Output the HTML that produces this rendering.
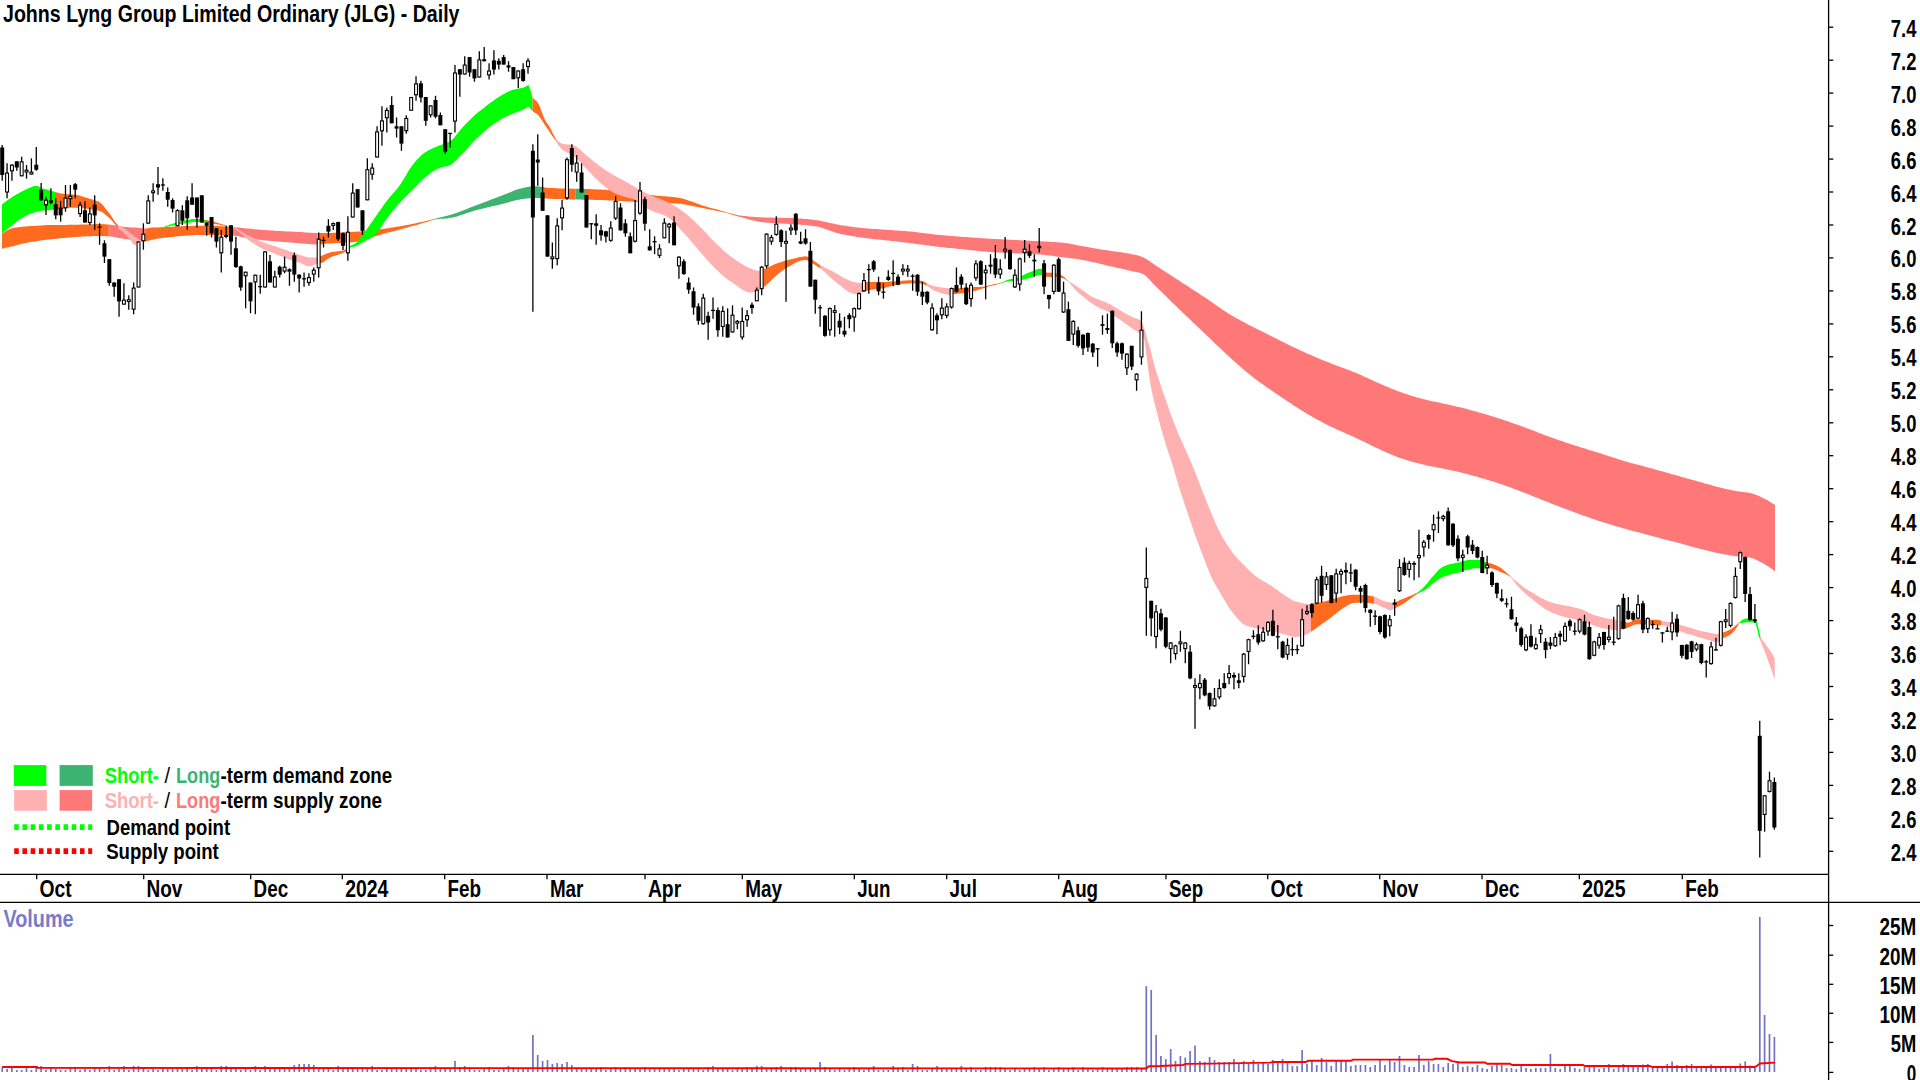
<!DOCTYPE html>
<html><head><meta charset="utf-8"><title>JLG Daily</title>
<style>html,body{margin:0;padding:0;background:#fff;overflow:hidden}svg{display:block}</style></head>
<body>
<svg width="1920" height="1080" viewBox="0 0 1920 1080">
<rect width="1920" height="1080" fill="#fff"/>
<g shape-rendering="geometricPrecision">
<polygon fill="#FF6A1F" points="2.0,233.8 4.0,232.4 6.0,231.0 8.0,229.8 10.1,228.9 12.1,228.2 14.1,227.8 16.1,227.5 18.1,227.2 20.1,227.0 22.1,226.8 24.2,226.6 26.2,226.4 28.2,226.3 30.2,226.1 32.2,226.0 34.2,225.9 36.2,225.8 38.3,225.7 40.3,225.5 42.3,225.4 44.3,225.2 46.3,225.1 48.3,225.0 50.3,225.0 52.4,225.0 54.4,225.0 56.4,224.9 58.4,224.9 60.4,224.9 62.4,224.9 64.4,224.9 66.5,224.9 68.5,224.8 70.5,224.8 72.5,224.8 74.5,224.8 76.5,224.7 78.5,224.7 80.6,224.6 82.6,224.5 84.6,224.5 86.6,224.4 88.6,224.4 90.6,224.3 92.6,224.2 94.7,224.2 96.7,224.1 98.7,224.1 100.7,224.1 102.7,224.2 104.7,224.3 106.7,224.4 108.8,224.6 108.8,236.2 106.7,236.2 104.7,236.1 102.7,236.0 100.7,236.0 98.7,236.0 96.7,236.0 94.7,236.1 92.6,236.1 90.6,236.2 88.6,236.2 86.6,236.3 84.6,236.4 82.6,236.5 80.6,236.7 78.5,236.8 76.5,237.0 74.5,237.1 72.5,237.3 70.5,237.4 68.5,237.6 66.5,237.8 64.4,237.9 62.4,238.1 60.4,238.3 58.4,238.5 56.4,238.7 54.4,238.9 52.4,239.1 50.3,239.4 48.3,239.6 46.3,239.8 44.3,240.1 42.3,240.3 40.3,240.6 38.3,240.9 36.2,241.2 34.2,241.5 32.2,241.8 30.2,242.1 28.2,242.5 26.2,242.9 24.2,243.3 22.1,243.7 20.1,244.2 18.1,244.8 16.1,245.3 14.1,245.9 12.1,246.4 10.1,246.8 8.0,247.3 6.0,247.8 4.0,248.3 2.0,248.8"/>
<polygon fill="#FF7878" points="108.8,224.6 110.8,224.8 112.9,225.1 115.0,225.4 117.0,225.8 119.1,226.1 121.2,226.4 123.2,226.7 125.3,226.9 127.4,227.1 129.4,227.2 131.5,227.4 133.6,227.5 135.7,227.6 137.7,227.8 139.8,228.0 141.9,228.2 143.9,228.4 146.0,228.5 146.0,241.2 143.9,241.2 141.9,241.0 139.8,240.8 137.7,240.6 135.7,240.4 133.6,240.2 131.5,239.9 129.4,239.6 127.4,239.3 125.3,239.0 123.2,238.7 121.2,238.3 119.1,237.9 117.0,237.5 115.0,237.0 112.9,236.7 110.8,236.4 108.8,236.2"/>
<polygon fill="#FF6A1F" points="146.0,228.5 148.0,228.2 150.0,227.7 152.0,227.6 154.0,227.5 156.1,227.5 158.1,227.4 160.1,227.3 162.1,227.3 164.1,227.2 166.1,227.0 168.1,226.9 170.1,226.8 172.2,226.7 174.2,226.5 176.2,226.4 178.2,226.4 180.2,226.3 182.2,226.2 184.2,226.1 186.2,226.0 188.2,226.0 190.3,225.9 192.3,225.9 194.3,225.8 196.3,225.8 198.3,225.8 200.3,225.8 202.3,225.8 204.3,225.8 206.3,225.8 208.4,225.8 210.4,225.8 212.4,225.8 214.4,225.8 216.4,225.9 218.4,226.0 220.4,226.2 222.4,226.3 224.5,226.5 226.5,226.6 228.5,226.7 230.5,226.9 232.5,227.0 232.5,235.5 230.5,235.4 228.5,235.4 226.5,235.3 224.5,235.3 222.4,235.2 220.4,235.2 218.4,235.1 216.4,235.0 214.4,235.0 212.4,235.0 210.4,235.0 208.4,235.0 206.3,235.0 204.3,235.0 202.3,235.0 200.3,235.0 198.3,235.0 196.3,235.1 194.3,235.2 192.3,235.3 190.3,235.4 188.2,235.6 186.2,235.7 184.2,235.8 182.2,236.0 180.2,236.1 178.2,236.3 176.2,236.5 174.2,236.7 172.2,236.9 170.1,237.0 168.1,237.2 166.1,237.5 164.1,237.7 162.1,238.0 160.1,238.3 158.1,238.6 156.1,239.0 154.0,239.4 152.0,239.8 150.0,240.2 148.0,240.9 146.0,241.2"/>
<polygon fill="#FF7878" points="232.5,227.0 234.5,227.2 236.5,227.4 238.6,227.6 240.6,227.8 242.6,228.0 244.6,228.2 246.7,228.4 248.7,228.6 250.7,228.8 252.7,229.0 254.8,229.2 256.8,229.4 258.8,229.5 260.8,229.7 262.9,229.9 264.9,230.0 266.9,230.2 268.9,230.3 271.0,230.5 273.0,230.6 275.0,230.8 277.0,230.9 279.0,231.0 281.1,231.1 283.1,231.2 285.1,231.3 287.1,231.4 289.2,231.5 291.2,231.6 293.2,231.7 295.2,231.8 297.3,231.9 299.3,232.0 301.3,232.1 303.3,232.2 305.4,232.4 307.4,232.5 309.4,232.7 311.4,232.8 313.5,232.9 315.5,233.0 317.5,233.0 317.5,244.5 315.5,244.5 313.5,244.4 311.4,244.3 309.4,244.1 307.4,243.9 305.4,243.7 303.3,243.5 301.3,243.4 299.3,243.2 297.3,243.0 295.2,242.9 293.2,242.7 291.2,242.6 289.2,242.4 287.1,242.3 285.1,242.1 283.1,241.9 281.1,241.8 279.0,241.6 277.0,241.4 275.0,241.2 273.0,241.1 271.0,240.9 268.9,240.7 266.9,240.5 264.9,240.4 262.9,240.2 260.8,240.0 258.8,239.8 256.8,239.6 254.8,239.3 252.7,239.1 250.7,238.8 248.7,238.6 246.7,238.2 244.6,237.7 242.6,237.3 240.6,236.8 238.6,236.3 236.5,235.9 234.5,235.7 232.5,235.5"/>
<polygon fill="#FF6A1F" points="317.5,233.0 319.5,233.0 321.6,233.0 323.6,233.0 325.6,233.0 327.6,233.0 329.7,232.9 331.7,232.9 333.7,232.8 335.7,232.7 337.8,232.6 339.8,232.5 341.8,232.4 343.8,232.3 345.9,232.2 347.9,232.1 349.9,232.0 351.9,231.9 354.0,231.8 356.0,231.7 358.0,231.5 360.0,231.4 362.1,231.2 364.1,231.1 366.1,230.9 368.1,230.7 370.2,230.5 372.2,230.3 374.2,230.1 376.2,229.9 378.3,229.6 380.3,229.3 382.3,229.1 384.4,228.8 386.4,228.5 388.4,228.2 390.4,227.8 392.5,227.5 394.5,227.2 396.5,226.8 398.5,226.5 400.6,226.2 402.6,225.8 404.6,225.4 406.6,225.1 408.7,224.7 410.7,224.3 412.7,223.9 414.7,223.5 416.8,223.0 418.8,222.6 420.8,222.2 422.8,221.7 424.9,221.3 426.9,220.8 428.9,220.3 430.9,219.8 433.0,219.3 435.0,218.8 435.0,219.5 433.0,219.9 430.9,220.5 428.9,221.2 426.9,221.9 424.9,222.5 422.8,223.1 420.8,223.7 418.8,224.3 416.8,224.9 414.7,225.4 412.7,226.0 410.7,226.6 408.7,227.1 406.6,227.7 404.6,228.2 402.6,228.8 400.6,229.3 398.5,229.9 396.5,230.4 394.5,231.0 392.5,231.5 390.4,232.0 388.4,232.5 386.4,233.1 384.4,233.6 382.3,234.2 380.3,234.7 378.3,235.3 376.2,235.9 374.2,236.5 372.2,237.2 370.2,238.0 368.1,238.7 366.1,239.5 364.1,240.1 362.1,240.6 360.0,241.0 358.0,241.4 356.0,241.8 354.0,242.1 351.9,242.3 349.9,242.5 347.9,242.7 345.9,242.8 343.8,242.9 341.8,243.0 339.8,243.1 337.8,243.1 335.7,243.2 333.7,243.3 331.7,243.4 329.7,243.5 327.6,243.6 325.6,243.7 323.6,243.9 321.6,244.2 319.5,244.4 317.5,244.5"/>
<polygon fill="#3CB371" points="435.0,218.8 437.0,218.3 439.0,217.8 441.0,217.3 443.0,216.8 445.0,216.3 447.0,215.8 449.0,215.3 451.0,214.7 453.0,214.1 455.0,213.4 457.0,212.7 459.0,212.0 461.0,211.2 463.0,210.4 465.0,209.7 467.0,208.9 469.0,208.1 471.0,207.3 473.0,206.5 475.0,205.8 477.0,205.0 479.0,204.2 481.0,203.5 483.0,202.7 485.0,201.9 487.0,201.2 489.0,200.4 491.0,199.6 493.0,198.9 495.0,198.1 497.0,197.4 499.0,196.6 501.0,195.9 503.0,195.1 505.0,194.3 507.0,193.5 509.0,192.7 511.0,191.9 513.0,191.1 515.0,190.3 517.0,189.6 519.0,189.0 521.0,188.4 523.0,187.9 525.0,187.5 527.0,187.1 529.0,186.8 531.0,186.5 533.0,186.3 535.0,186.2 537.0,186.3 539.0,186.5 541.0,186.8 541.0,198.2 539.0,198.1 537.0,198.0 535.0,198.0 533.0,198.0 531.0,198.2 529.0,198.3 527.0,198.5 525.0,198.8 523.0,199.0 521.0,199.3 519.0,199.7 517.0,200.1 515.0,200.6 513.0,201.1 511.0,201.6 509.0,202.2 507.0,202.7 505.0,203.2 503.0,203.8 501.0,204.3 499.0,204.7 497.0,205.2 495.0,205.7 493.0,206.1 491.0,206.6 489.0,207.1 487.0,207.5 485.0,208.0 483.0,208.5 481.0,209.0 479.0,209.5 477.0,210.0 475.0,210.5 473.0,211.1 471.0,211.7 469.0,212.4 467.0,213.0 465.0,213.8 463.0,214.5 461.0,215.1 459.0,215.8 457.0,216.4 455.0,217.0 453.0,217.5 451.0,217.8 449.0,218.1 447.0,218.4 445.0,218.5 443.0,218.7 441.0,218.8 439.0,219.0 437.0,219.2 435.0,219.5"/>
<polygon fill="#FF6A1F" points="541.0,186.8 543.0,187.1 545.1,187.4 547.1,187.7 549.2,187.9 551.2,188.1 553.3,188.1 555.3,188.2 557.4,188.3 559.4,188.4 561.5,188.4 563.5,188.5 565.6,188.5 567.6,188.6 569.7,188.6 571.7,188.7 573.8,188.7 575.8,188.8 575.8,199.5 573.8,199.5 571.7,199.4 569.7,199.4 567.6,199.3 565.6,199.3 563.5,199.2 561.5,199.1 559.4,199.1 557.4,199.0 555.3,198.9 553.3,198.9 551.2,198.8 549.2,198.7 547.1,198.6 545.1,198.5 543.0,198.3 541.0,198.2"/>
<polygon fill="#3CB371" points="575.8,188.8 578.1,188.8 580.4,188.9 582.7,189.0 585.0,189.0 585.0,199.7 582.7,199.7 580.4,199.6 578.1,199.6 575.8,199.5"/>
<polygon fill="#FF6A1F" points="585.0,189.0 587.0,189.1 589.0,189.1 591.0,189.2 593.0,189.2 595.0,189.3 597.0,189.4 599.0,189.5 601.0,189.5 603.0,189.7 605.0,189.8 607.0,189.9 609.0,190.1 611.0,190.3 613.0,190.5 615.0,190.7 617.0,190.9 619.0,191.1 621.0,191.3 623.0,191.5 625.0,191.8 627.0,192.0 629.0,192.2 631.0,192.5 633.0,192.7 635.0,193.0 637.0,193.3 639.0,193.6 641.0,193.8 643.0,194.1 645.0,194.4 647.0,194.6 649.0,194.9 651.0,195.1 653.0,195.3 655.0,195.5 657.0,195.7 659.0,195.8 661.0,196.0 663.0,196.2 665.0,196.3 667.0,196.5 669.0,196.7 671.0,196.8 673.0,197.1 675.0,197.3 677.0,197.5 679.0,197.8 681.0,198.2 683.0,198.7 685.0,199.3 687.0,200.0 689.0,200.7 691.0,201.3 693.0,202.0 695.0,202.8 697.0,203.6 699.0,204.3 701.0,205.0 703.0,205.7 705.0,206.3 707.0,206.8 709.0,207.4 711.0,207.9 713.0,208.4 715.0,209.0 717.0,209.6 719.0,210.1 721.0,210.7 723.0,211.3 725.0,211.8 727.0,212.4 729.0,212.9 731.0,213.5 733.0,214.0 735.0,214.5 737.0,215.0 739.0,215.4 739.0,216.7 737.0,216.1 735.0,215.5 733.0,214.9 731.0,214.2 729.0,213.7 727.0,213.1 725.0,212.6 723.0,212.2 721.0,211.8 719.0,211.3 717.0,210.9 715.0,210.5 713.0,210.1 711.0,209.7 709.0,209.3 707.0,208.9 705.0,208.5 703.0,208.1 701.0,207.7 699.0,207.3 697.0,206.9 695.0,206.5 693.0,206.1 691.0,205.7 689.0,205.3 687.0,204.9 685.0,204.5 683.0,204.1 681.0,203.8 679.0,203.7 677.0,203.5 675.0,203.4 673.0,203.3 671.0,203.2 669.0,203.2 667.0,203.1 665.0,203.0 663.0,203.0 661.0,202.9 659.0,202.8 657.0,202.8 655.0,202.7 653.0,202.6 651.0,202.5 649.0,202.5 647.0,202.4 645.0,202.3 643.0,202.2 641.0,202.1 639.0,202.0 637.0,201.9 635.0,201.8 633.0,201.7 631.0,201.6 629.0,201.5 627.0,201.4 625.0,201.2 623.0,201.1 621.0,201.0 619.0,200.9 617.0,200.8 615.0,200.7 613.0,200.6 611.0,200.5 609.0,200.4 607.0,200.3 605.0,200.2 603.0,200.1 601.0,200.0 599.0,200.0 597.0,199.9 595.0,199.9 593.0,199.8 591.0,199.8 589.0,199.8 587.0,199.7 585.0,199.7"/>
<polygon fill="#FF7878" points="739.0,215.4 741.0,215.6 743.0,215.9 745.0,216.1 747.0,216.3 749.0,216.5 751.0,216.7 753.0,216.8 755.0,217.0 757.0,217.1 759.0,217.2 761.0,217.3 763.0,217.4 765.0,217.5 767.0,217.6 769.0,217.6 771.0,217.6 773.0,217.7 775.0,217.7 777.0,217.7 779.0,217.8 781.0,217.8 783.0,217.8 785.0,217.9 787.0,217.9 789.0,218.0 791.0,218.0 793.0,218.1 795.0,218.2 797.0,218.3 799.0,218.5 801.0,218.6 803.0,218.8 805.0,219.0 807.0,219.1 809.0,219.3 811.0,219.6 813.0,219.8 815.0,220.0 817.0,220.3 819.0,220.6 821.0,220.9 823.0,221.4 825.0,221.8 827.0,222.2 829.0,222.7 831.0,223.2 833.0,223.6 835.0,224.1 837.0,224.5 839.0,224.8 841.0,225.2 843.0,225.5 845.0,225.8 847.0,226.1 849.0,226.4 851.0,226.6 853.0,226.9 855.0,227.2 857.0,227.4 859.0,227.6 861.0,227.9 863.0,228.1 865.0,228.2 867.0,228.4 869.0,228.6 871.0,228.7 873.0,228.9 875.0,229.0 877.0,229.1 879.0,229.3 881.0,229.4 883.0,229.5 885.0,229.7 887.0,229.8 889.0,229.9 891.0,230.1 893.0,230.2 895.0,230.4 897.0,230.5 899.0,230.7 901.0,230.8 903.0,231.0 905.0,231.1 907.0,231.3 909.0,231.5 911.0,231.6 913.0,231.8 915.0,232.0 917.0,232.2 919.0,232.4 921.0,232.7 923.0,232.9 925.0,233.2 927.0,233.4 929.0,233.7 931.0,234.0 933.0,234.2 935.0,234.5 937.0,234.7 939.0,234.9 941.0,235.1 943.0,235.3 945.0,235.5 947.0,235.6 949.0,235.8 951.0,235.9 953.0,236.1 955.0,236.3 957.0,236.4 959.0,236.6 961.0,236.7 963.0,236.9 965.0,237.0 967.0,237.1 969.0,237.3 971.0,237.4 973.0,237.6 975.0,237.7 977.0,237.9 979.0,238.0 981.0,238.2 983.0,238.3 985.0,238.4 987.0,238.6 989.0,238.7 991.0,238.8 993.0,238.9 995.0,239.0 997.0,239.1 999.0,239.2 1001.0,239.3 1003.0,239.4 1005.0,239.5 1007.0,239.6 1009.0,239.7 1011.0,239.8 1013.0,239.9 1015.0,240.0 1017.0,240.1 1019.0,240.2 1021.0,240.3 1023.0,240.4 1025.0,240.5 1027.0,240.6 1029.0,240.7 1031.0,240.8 1033.0,240.9 1035.0,241.0 1037.0,241.1 1039.0,241.2 1041.0,241.3 1043.0,241.4 1045.0,241.5 1047.0,241.6 1049.0,241.8 1051.0,241.9 1053.0,242.0 1055.0,242.1 1057.0,242.3 1059.0,242.4 1061.0,242.6 1063.0,242.8 1065.0,243.0 1067.0,243.3 1069.0,243.6 1071.0,243.9 1073.0,244.3 1075.0,244.8 1077.0,245.2 1079.0,245.6 1081.0,245.9 1083.0,246.3 1085.0,246.6 1087.0,247.0 1089.0,247.3 1091.0,247.7 1093.0,248.0 1095.0,248.4 1097.0,248.7 1099.0,249.0 1101.0,249.4 1103.0,249.7 1105.0,250.0 1107.0,250.3 1109.0,250.6 1111.0,250.9 1113.0,251.2 1115.0,251.4 1117.0,251.7 1119.0,252.0 1121.0,252.2 1123.0,252.5 1125.0,252.9 1127.0,253.2 1129.0,253.6 1131.0,253.9 1133.0,254.4 1135.0,254.8 1137.0,255.3 1139.0,255.8 1141.0,256.5 1143.0,257.2 1145.0,258.2 1147.0,259.4 1149.0,260.7 1151.0,262.2 1153.0,263.6 1155.0,265.0 1157.0,266.3 1159.0,267.6 1161.0,268.9 1163.0,270.2 1165.0,271.5 1167.0,272.8 1169.0,274.1 1171.0,275.4 1173.0,276.7 1175.0,278.0 1177.0,279.3 1179.0,280.6 1181.0,281.9 1183.0,283.2 1185.0,284.5 1187.0,285.8 1189.0,287.1 1191.0,288.4 1193.0,289.7 1195.0,290.9 1197.0,292.2 1199.0,293.5 1201.0,294.9 1203.0,296.2 1205.0,297.5 1207.0,298.8 1209.0,300.2 1211.0,301.6 1213.0,303.0 1215.0,304.4 1217.0,305.8 1219.0,307.2 1221.0,308.6 1223.0,310.0 1225.0,311.3 1227.0,312.6 1229.0,313.9 1231.0,315.1 1233.0,316.3 1235.0,317.4 1237.0,318.5 1239.0,319.6 1241.0,320.7 1243.0,321.8 1245.0,322.8 1247.0,323.9 1249.0,324.9 1251.0,325.9 1253.0,327.0 1255.0,328.0 1257.0,329.0 1259.0,330.1 1261.0,331.1 1263.0,332.1 1265.0,333.1 1267.0,334.1 1269.0,335.1 1271.0,336.1 1273.0,337.1 1275.0,338.0 1277.0,339.0 1279.0,340.0 1281.0,341.0 1283.0,342.0 1285.0,343.0 1287.0,343.9 1289.0,344.9 1291.0,345.9 1293.0,346.9 1295.0,347.8 1297.0,348.8 1299.0,349.7 1301.0,350.7 1303.0,351.6 1305.0,352.5 1307.0,353.4 1309.0,354.3 1311.0,355.1 1313.0,356.0 1315.0,356.9 1317.0,357.7 1319.0,358.5 1321.0,359.4 1323.0,360.2 1325.0,361.0 1327.0,361.8 1329.0,362.6 1331.0,363.4 1333.0,364.2 1335.0,364.9 1337.0,365.7 1339.0,366.4 1341.0,367.2 1343.0,367.9 1345.0,368.6 1347.0,369.4 1349.0,370.1 1351.0,370.9 1353.0,371.7 1355.0,372.5 1357.0,373.3 1359.0,374.2 1361.0,375.1 1363.0,376.0 1365.0,376.9 1367.0,377.8 1369.0,378.8 1371.0,379.7 1373.0,380.6 1375.0,381.5 1377.0,382.4 1379.0,383.3 1381.0,384.2 1383.0,385.0 1385.0,385.9 1387.0,386.8 1389.0,387.6 1391.0,388.5 1393.0,389.3 1395.0,390.1 1397.0,390.9 1399.0,391.6 1401.0,392.3 1403.0,393.0 1405.0,393.7 1407.0,394.3 1409.0,395.0 1411.0,395.6 1413.0,396.2 1415.0,396.8 1417.0,397.4 1419.0,397.9 1421.0,398.5 1423.0,399.0 1425.0,399.5 1427.0,400.0 1429.0,400.5 1431.0,400.9 1433.0,401.4 1435.0,401.8 1437.0,402.2 1439.0,402.6 1441.0,403.0 1443.0,403.5 1445.0,403.9 1447.0,404.3 1449.0,404.8 1451.0,405.2 1453.0,405.7 1455.0,406.2 1457.0,406.7 1459.0,407.1 1461.0,407.6 1463.0,408.1 1465.0,408.6 1467.0,409.1 1469.0,409.7 1471.0,410.2 1473.0,410.7 1475.0,411.2 1477.0,411.8 1479.0,412.4 1481.0,412.9 1483.0,413.5 1485.0,414.1 1487.0,414.7 1489.0,415.3 1491.0,415.9 1493.0,416.5 1495.0,417.2 1497.0,417.8 1499.0,418.4 1501.0,419.1 1503.0,419.7 1505.0,420.4 1507.0,421.1 1509.0,421.8 1511.0,422.5 1513.0,423.2 1515.0,423.9 1517.0,424.6 1519.0,425.3 1521.0,426.0 1523.0,426.8 1525.0,427.5 1527.0,428.2 1529.0,429.0 1531.0,429.7 1533.0,430.5 1535.0,431.3 1537.0,432.1 1539.0,432.9 1541.0,433.6 1543.0,434.4 1545.0,435.2 1547.0,435.9 1549.0,436.6 1551.0,437.4 1553.0,438.1 1555.0,438.8 1557.0,439.5 1559.0,440.2 1561.0,440.8 1563.0,441.5 1565.0,442.2 1567.0,442.9 1569.0,443.5 1571.0,444.2 1573.0,444.8 1575.0,445.5 1577.0,446.1 1579.0,446.8 1581.0,447.4 1583.0,448.0 1585.0,448.6 1587.0,449.3 1589.0,449.9 1591.0,450.5 1593.0,451.1 1595.0,451.7 1597.0,452.3 1599.0,452.9 1601.0,453.6 1603.0,454.2 1605.0,454.9 1607.0,455.5 1609.0,456.2 1611.0,456.8 1613.0,457.5 1615.0,458.1 1617.0,458.8 1619.0,459.4 1621.0,460.0 1623.0,460.7 1625.0,461.2 1627.0,461.8 1629.0,462.4 1631.0,462.9 1633.0,463.5 1635.0,464.0 1637.0,464.5 1639.0,465.1 1641.0,465.6 1643.0,466.1 1645.0,466.7 1647.0,467.2 1649.0,467.7 1651.0,468.3 1653.0,468.8 1655.0,469.4 1657.0,469.9 1659.0,470.5 1661.0,471.1 1663.0,471.6 1665.0,472.2 1667.0,472.8 1669.0,473.3 1671.0,473.9 1673.0,474.4 1675.0,475.0 1677.0,475.6 1679.0,476.1 1681.0,476.7 1683.0,477.2 1685.0,477.8 1687.0,478.4 1689.0,478.9 1691.0,479.5 1693.0,480.1 1695.0,480.6 1697.0,481.2 1699.0,481.7 1701.0,482.3 1703.0,482.8 1705.0,483.4 1707.0,484.0 1709.0,484.5 1711.0,485.1 1713.0,485.7 1715.0,486.2 1717.0,486.8 1719.0,487.3 1721.0,487.8 1723.0,488.3 1725.0,488.8 1727.0,489.2 1729.0,489.6 1731.0,490.0 1733.0,490.4 1735.0,490.8 1737.0,491.2 1739.0,491.5 1741.0,491.7 1743.0,492.0 1745.0,492.2 1747.0,492.5 1749.0,492.8 1751.0,493.2 1753.0,493.8 1755.0,494.5 1757.0,495.3 1759.0,496.1 1761.0,497.0 1763.0,497.9 1765.0,499.0 1767.0,500.0 1769.0,501.2 1771.0,502.4 1773.0,503.7 1775.0,505.0 1775.0,571.3 1773.0,569.8 1771.0,568.3 1769.0,567.0 1767.0,565.7 1765.0,564.5 1763.0,563.3 1761.0,562.2 1759.0,561.2 1757.0,560.3 1755.0,559.3 1753.0,558.4 1751.0,557.7 1749.0,557.3 1747.0,557.1 1745.0,556.9 1743.0,556.7 1741.0,556.6 1739.0,556.4 1737.0,556.2 1735.0,555.9 1733.0,555.7 1731.0,555.4 1729.0,555.1 1727.0,554.8 1725.0,554.5 1723.0,554.1 1721.0,553.8 1719.0,553.3 1717.0,552.9 1715.0,552.5 1713.0,552.0 1711.0,551.5 1709.0,551.0 1707.0,550.5 1705.0,550.0 1703.0,549.5 1701.0,549.0 1699.0,548.5 1697.0,548.0 1695.0,547.5 1693.0,546.9 1691.0,546.4 1689.0,545.8 1687.0,545.3 1685.0,544.7 1683.0,544.2 1681.0,543.6 1679.0,543.1 1677.0,542.5 1675.0,542.0 1673.0,541.5 1671.0,540.9 1669.0,540.4 1667.0,539.9 1665.0,539.4 1663.0,538.9 1661.0,538.4 1659.0,537.8 1657.0,537.3 1655.0,536.8 1653.0,536.3 1651.0,535.8 1649.0,535.2 1647.0,534.7 1645.0,534.2 1643.0,533.6 1641.0,533.1 1639.0,532.6 1637.0,532.1 1635.0,531.5 1633.0,531.0 1631.0,530.4 1629.0,529.9 1627.0,529.3 1625.0,528.8 1623.0,528.2 1621.0,527.6 1619.0,527.0 1617.0,526.4 1615.0,525.9 1613.0,525.3 1611.0,524.7 1609.0,524.1 1607.0,523.5 1605.0,522.8 1603.0,522.2 1601.0,521.6 1599.0,520.9 1597.0,520.3 1595.0,519.6 1593.0,518.9 1591.0,518.2 1589.0,517.5 1587.0,516.8 1585.0,516.1 1583.0,515.4 1581.0,514.7 1579.0,514.0 1577.0,513.2 1575.0,512.5 1573.0,511.8 1571.0,511.0 1569.0,510.3 1567.0,509.5 1565.0,508.8 1563.0,508.0 1561.0,507.3 1559.0,506.5 1557.0,505.7 1555.0,504.9 1553.0,504.2 1551.0,503.4 1549.0,502.6 1547.0,501.8 1545.0,501.0 1543.0,500.2 1541.0,499.4 1539.0,498.6 1537.0,497.8 1535.0,497.0 1533.0,496.2 1531.0,495.4 1529.0,494.6 1527.0,493.8 1525.0,493.0 1523.0,492.2 1521.0,491.5 1519.0,490.7 1517.0,489.9 1515.0,489.2 1513.0,488.4 1511.0,487.6 1509.0,486.9 1507.0,486.2 1505.0,485.5 1503.0,484.8 1501.0,484.1 1499.0,483.4 1497.0,482.8 1495.0,482.1 1493.0,481.5 1491.0,480.9 1489.0,480.3 1487.0,479.7 1485.0,479.1 1483.0,478.5 1481.0,477.9 1479.0,477.4 1477.0,476.8 1475.0,476.2 1473.0,475.7 1471.0,475.2 1469.0,474.6 1467.0,474.1 1465.0,473.6 1463.0,473.1 1461.0,472.6 1459.0,472.1 1457.0,471.6 1455.0,471.1 1453.0,470.7 1451.0,470.2 1449.0,469.8 1447.0,469.4 1445.0,469.0 1443.0,468.6 1441.0,468.2 1439.0,467.8 1437.0,467.4 1435.0,467.1 1433.0,466.7 1431.0,466.3 1429.0,465.9 1427.0,465.5 1425.0,465.0 1423.0,464.5 1421.0,464.0 1419.0,463.5 1417.0,463.0 1415.0,462.5 1413.0,462.0 1411.0,461.4 1409.0,460.8 1407.0,460.2 1405.0,459.6 1403.0,459.0 1401.0,458.3 1399.0,457.7 1397.0,456.9 1395.0,456.1 1393.0,455.3 1391.0,454.5 1389.0,453.6 1387.0,452.7 1385.0,451.8 1383.0,450.9 1381.0,450.0 1379.0,449.0 1377.0,448.1 1375.0,447.2 1373.0,446.2 1371.0,445.3 1369.0,444.3 1367.0,443.3 1365.0,442.3 1363.0,441.3 1361.0,440.4 1359.0,439.4 1357.0,438.4 1355.0,437.5 1353.0,436.6 1351.0,435.7 1349.0,434.8 1347.0,433.9 1345.0,433.1 1343.0,432.2 1341.0,431.3 1339.0,430.4 1337.0,429.5 1335.0,428.6 1333.0,427.7 1331.0,426.7 1329.0,425.8 1327.0,424.7 1325.0,423.7 1323.0,422.7 1321.0,421.6 1319.0,420.5 1317.0,419.4 1315.0,418.3 1313.0,417.2 1311.0,416.0 1309.0,414.9 1307.0,413.7 1305.0,412.5 1303.0,411.3 1301.0,410.1 1299.0,408.8 1297.0,407.5 1295.0,406.3 1293.0,404.9 1291.0,403.6 1289.0,402.3 1287.0,401.0 1285.0,399.6 1283.0,398.3 1281.0,396.9 1279.0,395.6 1277.0,394.2 1275.0,392.9 1273.0,391.5 1271.0,390.2 1269.0,388.8 1267.0,387.4 1265.0,386.1 1263.0,384.6 1261.0,383.2 1259.0,381.8 1257.0,380.3 1255.0,378.8 1253.0,377.2 1251.0,375.6 1249.0,374.0 1247.0,372.3 1245.0,370.7 1243.0,369.0 1241.0,367.2 1239.0,365.5 1237.0,363.7 1235.0,362.0 1233.0,360.2 1231.0,358.4 1229.0,356.6 1227.0,354.8 1225.0,352.9 1223.0,351.0 1221.0,349.1 1219.0,347.2 1217.0,345.3 1215.0,343.4 1213.0,341.4 1211.0,339.5 1209.0,337.6 1207.0,335.7 1205.0,333.8 1203.0,331.9 1201.0,330.0 1199.0,328.1 1197.0,326.2 1195.0,324.3 1193.0,322.4 1191.0,320.5 1189.0,318.6 1187.0,316.7 1185.0,314.8 1183.0,312.9 1181.0,311.0 1179.0,309.0 1177.0,307.1 1175.0,305.1 1173.0,303.2 1171.0,301.2 1169.0,299.2 1167.0,297.2 1165.0,295.3 1163.0,293.3 1161.0,291.3 1159.0,289.4 1157.0,287.4 1155.0,285.5 1153.0,283.4 1151.0,281.2 1149.0,279.0 1147.0,276.9 1145.0,275.2 1143.0,274.0 1141.0,273.2 1139.0,272.6 1137.0,272.2 1135.0,271.8 1133.0,271.4 1131.0,271.0 1129.0,270.5 1127.0,270.0 1125.0,269.6 1123.0,269.1 1121.0,268.6 1119.0,268.2 1117.0,267.7 1115.0,267.3 1113.0,266.8 1111.0,266.4 1109.0,265.9 1107.0,265.5 1105.0,265.0 1103.0,264.5 1101.0,264.1 1099.0,263.6 1097.0,263.1 1095.0,262.6 1093.0,262.2 1091.0,261.7 1089.0,261.3 1087.0,260.8 1085.0,260.4 1083.0,260.0 1081.0,259.7 1079.0,259.3 1077.0,259.0 1075.0,258.8 1073.0,258.5 1071.0,258.2 1069.0,258.0 1067.0,257.8 1065.0,257.5 1063.0,257.2 1061.0,257.0 1059.0,256.7 1057.0,256.4 1055.0,256.2 1053.0,255.9 1051.0,255.6 1049.0,255.4 1047.0,255.2 1045.0,254.9 1043.0,254.7 1041.0,254.6 1039.0,254.4 1037.0,254.3 1035.0,254.2 1033.0,254.1 1031.0,254.0 1029.0,253.9 1027.0,253.8 1025.0,253.7 1023.0,253.6 1021.0,253.5 1019.0,253.4 1017.0,253.3 1015.0,253.2 1013.0,253.2 1011.0,253.1 1009.0,253.0 1007.0,252.9 1005.0,252.8 1003.0,252.7 1001.0,252.6 999.0,252.5 997.0,252.4 995.0,252.3 993.0,252.2 991.0,252.1 989.0,251.9 987.0,251.8 985.0,251.6 983.0,251.4 981.0,251.2 979.0,251.0 977.0,250.8 975.0,250.6 973.0,250.4 971.0,250.1 969.0,249.9 967.0,249.7 965.0,249.5 963.0,249.3 961.0,249.1 959.0,248.9 957.0,248.7 955.0,248.5 953.0,248.3 951.0,248.1 949.0,247.9 947.0,247.7 945.0,247.5 943.0,247.3 941.0,247.1 939.0,246.9 937.0,246.6 935.0,246.4 933.0,246.1 931.0,245.9 929.0,245.6 927.0,245.3 925.0,245.1 923.0,244.8 921.0,244.5 919.0,244.3 917.0,244.0 915.0,243.8 913.0,243.5 911.0,243.3 909.0,243.0 907.0,242.8 905.0,242.5 903.0,242.3 901.0,242.0 899.0,241.8 897.0,241.6 895.0,241.3 893.0,241.1 891.0,240.9 889.0,240.6 887.0,240.4 885.0,240.2 883.0,240.0 881.0,239.8 879.0,239.6 877.0,239.4 875.0,239.2 873.0,239.0 871.0,238.7 869.0,238.5 867.0,238.3 865.0,238.0 863.0,237.7 861.0,237.4 859.0,237.2 857.0,236.9 855.0,236.5 853.0,236.2 851.0,235.9 849.0,235.5 847.0,235.2 845.0,234.8 843.0,234.4 841.0,234.0 839.0,233.5 837.0,233.0 835.0,232.4 833.0,231.7 831.0,231.0 829.0,230.3 827.0,229.6 825.0,228.9 823.0,228.2 821.0,227.6 819.0,227.0 817.0,226.6 815.0,226.2 813.0,226.0 811.0,225.7 809.0,225.5 807.0,225.3 805.0,225.1 803.0,225.0 801.0,224.8 799.0,224.6 797.0,224.5 795.0,224.4 793.0,224.2 791.0,224.1 789.0,223.9 787.0,223.8 785.0,223.7 783.0,223.6 781.0,223.5 779.0,223.4 777.0,223.3 775.0,223.2 773.0,223.1 771.0,223.0 769.0,222.8 767.0,222.7 765.0,222.5 763.0,222.3 761.0,222.0 759.0,221.7 757.0,221.3 755.0,220.8 753.0,220.4 751.0,219.9 749.0,219.4 747.0,218.9 745.0,218.3 743.0,217.8 741.0,217.3 739.0,216.7"/>
<polygon fill="#00FF00" points="2.0,204.4 4.0,202.8 6.1,201.3 8.1,199.8 10.2,198.4 12.2,197.1 14.2,195.8 16.3,194.6 18.3,193.4 20.3,192.3 22.4,191.2 24.4,190.3 26.5,189.3 28.5,188.3 30.5,187.4 32.6,186.6 34.6,186.1 36.7,186.0 38.7,186.6 40.7,187.5 42.8,188.4 44.8,189.1 46.8,189.6 48.9,190.2 50.9,190.8 53.0,191.3 55.0,191.9 55.0,209.7 53.0,209.8 50.9,209.9 48.9,210.1 46.8,210.2 44.8,210.4 42.8,210.6 40.7,210.9 38.7,211.4 36.7,211.8 34.6,212.4 32.6,213.0 30.5,213.8 28.5,214.6 26.5,215.5 24.4,216.5 22.4,217.7 20.3,219.1 18.3,220.5 16.3,222.1 14.2,223.7 12.2,225.2 10.2,226.8 8.1,228.5 6.1,230.2 4.0,231.9 2.0,233.8"/>
<polygon fill="#FF6A1F" points="55.0,191.9 57.0,192.5 59.1,193.0 61.1,193.5 63.1,193.8 65.2,194.0 67.2,194.2 69.2,194.3 71.3,194.5 73.3,194.6 75.3,194.8 77.4,195.1 79.4,195.6 81.4,196.2 83.5,196.8 85.5,197.5 87.5,198.1 89.5,198.7 91.6,199.3 93.6,199.9 95.6,200.5 97.7,201.3 99.7,202.3 101.7,204.0 103.8,206.3 105.8,208.9 107.8,211.4 109.9,214.1 111.9,217.0 113.9,220.2 116.0,223.0 118.0,225.3 118.0,228.0 116.0,225.4 113.9,222.9 111.9,220.6 109.9,218.6 107.8,216.8 105.8,215.1 103.8,213.3 101.7,211.8 99.7,210.9 97.7,210.5 95.6,210.1 93.6,209.7 91.6,209.4 89.5,209.0 87.5,208.8 85.5,208.5 83.5,208.3 81.4,208.1 79.4,207.9 77.4,207.8 75.3,207.8 73.3,207.8 71.3,207.8 69.2,207.8 67.2,207.9 65.2,208.3 63.1,208.7 61.1,208.9 59.1,209.2 57.0,209.5 55.0,209.7"/>
<polygon fill="#FFB0B0" points="118.0,225.3 120.1,226.5 122.3,227.4 124.4,228.6 126.5,230.1 128.7,231.7 130.8,233.5 133.0,235.3 135.1,237.1 137.2,238.6 139.4,239.9 141.5,240.8 141.5,241.0 139.4,240.9 137.2,242.8 135.1,245.5 133.0,243.9 130.8,240.6 128.7,238.0 126.5,235.7 124.4,233.5 122.3,231.6 120.1,229.9 118.0,228.0"/>
<polygon fill="#00FF00" points="162.0,227.8 164.0,226.9 166.0,226.1 168.0,225.3 170.0,224.6 172.0,223.9 174.0,223.3 176.0,222.7 178.0,222.2 180.0,221.6 182.0,221.2 184.0,220.7 186.0,220.3 188.0,219.9 190.0,219.5 192.0,219.1 194.0,219.0 196.0,219.0 198.0,219.2 200.0,219.3 202.0,219.5 204.0,219.8 206.0,220.0 206.0,222.5 204.0,222.4 202.0,222.3 200.0,222.2 198.0,222.1 196.0,222.0 194.0,222.0 192.0,222.1 190.0,222.5 188.0,222.9 186.0,223.2 184.0,223.5 182.0,223.8 180.0,224.1 178.0,224.5 176.0,224.8 174.0,225.2 172.0,225.6 170.0,226.1 168.0,226.5 166.0,227.1 164.0,227.7 162.0,228.3"/>
<polygon fill="#FF6A1F" points="206.0,220.0 208.1,220.4 210.2,220.9 212.3,221.5 214.4,222.0 216.6,222.6 218.7,223.2 220.8,223.8 222.9,224.4 225.0,225.0 225.0,226.0 222.9,225.5 220.8,225.1 218.7,224.6 216.6,224.2 214.4,223.8 212.3,223.5 210.2,223.1 208.1,222.7 206.0,222.5"/>
<polygon fill="#FFB0B0" points="225.0,225.0 227.0,225.5 229.0,226.0 231.0,226.5 233.0,227.2 235.1,228.0 237.1,229.0 239.1,230.1 241.1,231.2 243.1,232.4 245.1,233.6 247.1,234.7 249.1,235.8 251.1,236.8 253.2,237.8 255.2,238.8 257.2,239.7 259.2,240.6 261.2,241.5 263.2,242.3 265.2,243.0 267.2,243.7 269.2,244.4 271.2,245.0 273.3,245.7 275.3,246.3 277.3,247.0 279.3,247.7 281.3,248.4 283.3,249.1 285.3,249.7 287.3,250.4 289.3,251.2 291.4,251.9 293.4,252.7 295.4,253.4 297.4,254.2 299.4,254.8 301.4,255.4 303.4,256.1 305.4,256.7 307.4,257.2 309.5,257.5 311.5,257.5 313.5,257.5 315.5,257.5 317.5,257.5 317.5,263.8 315.5,264.3 313.5,265.3 311.5,266.0 309.5,266.2 307.4,265.9 305.4,265.2 303.4,264.4 301.4,263.5 299.4,262.8 297.4,262.1 295.4,261.5 293.4,260.8 291.4,260.1 289.3,259.4 287.3,258.7 285.3,257.9 283.3,257.1 281.3,256.3 279.3,255.5 277.3,254.7 275.3,253.9 273.3,253.1 271.2,252.3 269.2,251.6 267.2,250.8 265.2,250.0 263.2,249.1 261.2,248.1 259.2,247.0 257.2,245.8 255.2,244.6 253.2,243.3 251.1,242.0 249.1,240.6 247.1,239.1 245.1,237.4 243.1,235.6 241.1,233.8 239.1,232.1 237.1,230.6 235.1,229.2 233.0,228.2 231.0,227.5 229.0,226.9 227.0,226.5 225.0,226.0"/>
<polygon fill="#FF6A1F" points="317.5,257.5 319.5,256.7 321.6,255.8 323.6,254.9 325.6,254.0 327.7,253.2 329.7,252.6 331.7,252.1 333.8,251.8 335.8,251.6 337.8,251.3 339.8,251.1 341.9,250.8 343.9,250.3 345.9,249.5 348.0,247.7 350.0,246.0 350.0,247.5 348.0,249.1 345.9,251.3 343.9,252.6 341.9,253.5 339.8,254.2 337.8,254.8 335.8,255.4 333.8,256.1 331.7,256.8 329.7,257.7 327.7,258.9 325.6,260.4 323.6,261.9 321.6,263.0 319.5,263.6 317.5,263.8"/>
<polygon fill="#00FF00" points="350.0,246.0 352.0,245.1 354.0,244.3 356.0,243.0 358.0,240.9 360.0,238.3 362.0,235.6 364.0,233.0 366.0,230.3 368.0,227.5 370.1,224.6 372.1,221.7 374.1,218.8 376.1,216.0 378.1,213.1 380.1,210.3 382.1,207.4 384.1,204.6 386.1,201.8 388.1,199.2 390.1,196.8 392.1,194.5 394.1,192.2 396.1,189.9 398.1,187.5 400.1,184.8 402.1,181.8 404.1,178.4 406.2,174.9 408.2,171.5 410.2,168.2 412.2,165.4 414.2,163.0 416.2,160.6 418.2,158.5 420.2,156.4 422.2,154.6 424.2,153.1 426.2,151.7 428.2,150.6 430.2,149.5 432.2,148.6 434.2,147.7 436.2,146.8 438.2,145.9 440.2,145.2 442.3,144.5 444.3,143.8 446.3,143.1 448.3,142.2 450.3,141.1 452.3,139.5 454.3,137.4 456.3,135.0 458.3,132.5 460.3,130.0 462.3,127.7 464.3,125.6 466.3,123.5 468.3,121.4 470.3,119.4 472.3,117.5 474.3,115.6 476.3,113.8 478.4,112.1 480.4,110.5 482.4,108.9 484.4,107.4 486.4,105.8 488.4,104.3 490.4,102.8 492.4,101.4 494.4,99.9 496.4,98.5 498.4,97.2 500.4,96.0 502.4,94.8 504.4,93.7 506.4,92.6 508.4,91.6 510.4,90.8 512.4,90.0 514.5,89.4 516.5,89.0 518.5,88.6 520.5,88.2 522.5,87.8 524.5,87.2 526.5,86.0 528.5,85.0 530.5,90.5 532.5,97.5 532.5,111.2 530.5,108.6 528.5,106.8 526.5,107.8 524.5,109.0 522.5,109.9 520.5,110.7 518.5,111.4 516.5,112.2 514.5,112.9 512.4,113.8 510.4,114.7 508.4,115.6 506.4,116.6 504.4,117.6 502.4,118.6 500.4,119.8 498.4,121.0 496.4,122.2 494.4,123.6 492.4,125.0 490.4,126.5 488.4,128.1 486.4,129.7 484.4,131.3 482.4,133.1 480.4,134.9 478.4,136.7 476.3,138.7 474.3,140.7 472.3,142.8 470.3,145.1 468.3,147.4 466.3,149.7 464.3,151.9 462.3,153.9 460.3,156.0 458.3,158.1 456.3,160.2 454.3,162.1 452.3,163.7 450.3,164.9 448.3,165.7 446.3,166.3 444.3,166.8 442.3,167.3 440.2,167.8 438.2,168.5 436.2,169.3 434.2,170.5 432.2,171.8 430.2,173.3 428.2,174.9 426.2,176.5 424.2,178.2 422.2,180.0 420.2,182.0 418.2,184.1 416.2,186.2 414.2,188.3 412.2,190.3 410.2,192.3 408.2,194.3 406.2,196.2 404.1,198.2 402.1,200.2 400.1,202.4 398.1,204.6 396.1,206.9 394.1,209.2 392.1,211.7 390.1,214.2 388.1,216.7 386.1,219.4 384.1,222.5 382.1,225.6 380.1,228.8 378.1,231.6 376.1,234.0 374.1,235.8 372.1,237.2 370.1,238.4 368.0,239.6 366.0,240.6 364.0,241.7 362.0,242.8 360.0,244.0 358.0,245.2 356.0,246.2 354.0,246.7 352.0,247.0 350.0,247.5"/>
<polygon fill="#FF6A1F" points="532.5,97.5 534.5,99.5 536.6,101.0 538.6,103.9 540.7,108.9 542.7,114.6 544.8,119.6 546.8,122.9 548.9,125.7 550.9,129.3 553.0,133.8 555.0,137.5 555.0,140.0 553.0,137.0 550.9,133.9 548.9,130.8 546.8,127.7 544.8,124.7 542.7,121.5 540.7,118.4 538.6,115.6 536.6,113.8 534.5,112.6 532.5,111.2"/>
<polygon fill="#FFB0B0" points="555.0,137.5 557.0,139.8 559.0,141.8 561.0,143.2 563.0,143.9 565.0,144.2 567.1,144.4 569.1,144.5 571.1,144.8 573.1,145.1 575.1,146.0 577.1,147.2 579.1,148.8 581.1,150.6 583.1,152.4 585.1,154.3 587.2,156.0 589.2,157.6 591.2,159.2 593.2,160.9 595.2,162.5 597.2,164.1 599.2,165.7 601.2,167.1 603.2,168.5 605.2,169.9 607.2,171.2 609.3,172.5 611.3,173.8 613.3,175.0 615.3,176.1 617.3,177.2 619.3,178.2 621.3,179.3 623.3,180.3 625.3,181.4 627.3,182.6 629.4,183.7 631.4,184.9 633.4,186.0 635.4,187.1 637.4,188.3 639.4,189.4 641.4,190.6 643.4,191.7 645.4,192.7 647.4,193.8 649.5,194.7 651.5,195.6 653.5,196.5 655.5,197.2 657.5,198.0 659.5,198.7 661.5,199.5 663.5,200.3 665.5,201.2 667.5,202.1 669.5,203.1 671.6,204.2 673.6,205.4 675.6,206.6 677.6,207.8 679.6,209.1 681.6,210.5 683.6,211.9 685.6,213.5 687.6,215.1 689.6,216.9 691.7,218.7 693.7,220.6 695.7,222.5 697.7,224.5 699.7,226.4 701.7,228.4 703.7,230.5 705.7,232.6 707.7,234.8 709.7,237.0 711.8,239.2 713.8,241.3 715.8,243.3 717.8,245.2 719.8,247.1 721.8,248.9 723.8,250.7 725.8,252.4 727.8,254.1 729.8,255.7 731.8,257.3 733.9,258.7 735.9,260.1 737.9,261.5 739.9,262.8 741.9,264.1 743.9,265.3 745.9,266.4 747.9,267.4 749.9,268.3 751.9,269.1 754.0,269.9 756.0,270.5 758.0,270.8 760.0,270.5 762.0,269.8 764.0,269.0 764.0,287.0 762.0,288.6 760.0,290.0 758.0,290.9 756.0,291.5 754.0,292.0 751.9,292.4 749.9,292.5 747.9,292.3 745.9,291.6 743.9,290.6 741.9,289.4 739.9,288.0 737.9,286.6 735.9,285.1 733.9,283.7 731.8,282.3 729.8,280.9 727.8,279.4 725.8,277.9 723.8,276.2 721.8,274.5 719.8,272.8 717.8,271.0 715.8,269.1 713.8,267.1 711.8,265.0 709.7,262.8 707.7,260.6 705.7,258.3 703.7,255.9 701.7,253.6 699.7,251.4 697.7,249.1 695.7,246.7 693.7,244.3 691.7,241.9 689.6,239.6 687.6,237.2 685.6,235.0 683.6,232.8 681.6,230.7 679.6,228.5 677.6,226.3 675.6,224.2 673.6,222.2 671.6,220.3 669.5,218.6 667.5,217.2 665.5,216.1 663.5,215.1 661.5,214.3 659.5,213.6 657.5,212.9 655.5,212.2 653.5,211.5 651.5,210.7 649.5,209.7 647.4,208.5 645.4,207.1 643.4,205.6 641.4,204.1 639.4,202.6 637.4,201.2 635.4,200.0 633.4,199.1 631.4,198.5 629.4,198.0 627.3,197.6 625.3,197.1 623.3,196.5 621.3,195.8 619.3,195.1 617.3,194.3 615.3,193.4 613.3,192.4 611.3,191.3 609.3,190.0 607.2,188.6 605.2,187.0 603.2,185.3 601.2,183.6 599.2,181.8 597.2,179.9 595.2,177.9 593.2,175.9 591.2,173.8 589.2,171.7 587.2,169.7 585.1,167.5 583.1,165.3 581.1,163.1 579.1,160.9 577.1,158.8 575.1,157.0 573.1,155.4 571.1,154.2 569.1,153.2 567.1,152.4 565.0,151.5 563.0,150.4 561.0,148.6 559.0,146.0 557.0,143.0 555.0,140.0"/>
<polygon fill="#FF6A1F" points="764.0,269.0 766.0,268.2 768.0,267.3 770.0,266.4 772.0,265.5 774.0,264.6 776.0,263.8 778.0,263.1 780.0,262.4 782.0,261.7 784.0,261.1 786.0,260.6 788.0,260.1 790.0,259.6 792.0,259.1 794.0,258.6 796.0,258.0 798.0,257.4 800.0,257.0 802.0,256.7 804.0,256.4 806.0,256.3 808.0,257.0 810.0,258.3 812.0,259.5 814.0,260.9 816.0,262.3 818.0,263.7 820.0,265.0 820.0,268.3 818.0,266.9 816.0,265.6 814.0,264.3 812.0,263.1 810.0,262.0 808.0,260.7 806.0,260.0 804.0,260.1 802.0,260.4 800.0,260.8 798.0,261.4 796.0,262.5 794.0,263.6 792.0,264.8 790.0,265.9 788.0,267.1 786.0,268.3 784.0,269.5 782.0,270.9 780.0,272.5 778.0,274.1 776.0,275.8 774.0,277.6 772.0,279.5 770.0,281.5 768.0,283.5 766.0,285.3 764.0,287.0"/>
<polygon fill="#FFB0B0" points="820.0,265.0 822.1,266.1 824.2,267.2 826.3,268.2 828.3,269.2 830.4,270.2 832.5,271.3 834.6,272.4 836.7,273.7 838.8,275.0 840.9,276.2 842.9,277.4 845.0,278.5 847.1,279.6 849.2,280.5 851.3,281.2 853.4,281.8 855.4,282.2 857.5,282.7 859.6,283.1 861.7,283.3 861.7,292.5 859.6,293.4 857.5,294.1 855.4,294.1 853.4,293.7 851.3,293.0 849.2,292.2 847.1,290.9 845.0,289.3 842.9,287.7 840.9,286.1 838.8,284.4 836.7,282.8 834.6,281.1 832.5,279.3 830.4,277.5 828.3,275.6 826.3,273.6 824.2,271.7 822.1,269.9 820.0,268.3"/>
<polygon fill="#FF6A1F" points="861.7,283.3 863.7,282.8 865.8,282.1 867.8,282.0 869.8,282.0 871.9,282.0 873.9,282.0 875.9,282.0 878.0,282.0 880.0,282.0 882.0,282.0 884.0,282.0 886.1,281.9 888.1,281.8 890.1,281.6 892.2,281.5 894.2,281.4 896.2,281.2 898.3,281.1 900.3,281.0 902.3,280.8 904.4,280.6 906.4,280.5 908.4,280.3 910.5,280.3 912.5,280.3 914.5,280.4 916.5,280.5 918.6,280.6 920.6,280.7 922.6,281.0 924.7,282.1 926.7,283.3 926.7,285.8 924.7,284.7 922.6,283.9 920.6,283.6 918.6,283.5 916.5,283.4 914.5,283.4 912.5,283.3 910.5,283.3 908.4,283.4 906.4,283.5 904.4,283.8 902.3,284.1 900.3,284.5 898.3,284.7 896.2,285.0 894.2,285.3 892.2,285.7 890.1,286.2 888.1,286.9 886.1,287.6 884.0,288.2 882.0,288.5 880.0,288.7 878.0,288.9 875.9,289.1 873.9,289.4 871.9,289.7 869.8,290.1 867.8,290.5 865.8,291.1 863.7,291.8 861.7,292.5"/>
<polygon fill="#FFB0B0" points="926.7,283.3 928.8,284.2 930.9,285.0 933.0,285.7 935.1,286.3 937.2,286.7 939.4,287.1 941.5,287.5 943.6,287.7 945.7,288.0 947.8,288.2 949.9,288.3 952.0,288.3 952.0,294.5 949.9,295.0 947.8,294.8 945.7,294.4 943.6,293.8 941.5,293.2 939.4,292.6 937.2,291.8 935.1,290.9 933.0,289.9 930.9,288.6 928.8,287.1 926.7,285.8"/>
<polygon fill="#FF6A1F" points="952.0,288.3 954.0,288.3 956.1,288.3 958.1,288.2 960.1,288.2 962.2,288.1 964.2,288.1 966.2,288.0 968.3,287.9 970.3,287.6 972.3,287.3 974.4,287.0 976.4,286.9 978.4,286.9 980.5,286.8 982.5,286.7 984.5,286.6 986.6,286.1 988.6,285.5 990.6,285.0 992.7,284.5 994.7,284.1 996.7,283.7 998.8,283.3 1000.8,282.8 1000.8,283.5 998.8,284.0 996.7,284.5 994.7,285.0 992.7,285.4 990.6,286.0 988.6,286.6 986.6,287.3 984.5,287.9 982.5,288.5 980.5,289.2 978.4,289.8 976.4,290.4 974.4,291.0 972.3,291.4 970.3,291.8 968.3,292.2 966.2,292.6 964.2,292.9 962.2,293.1 960.1,293.4 958.1,293.6 956.1,293.9 954.0,294.1 952.0,294.5"/>
<polygon fill="#00FF00" points="1000.8,282.8 1002.9,281.9 1004.9,281.0 1007.0,280.1 1009.0,279.5 1011.1,279.1 1013.2,278.8 1015.2,278.4 1017.3,277.8 1019.3,277.0 1021.4,276.0 1023.5,274.9 1025.5,274.0 1027.6,273.1 1029.6,272.2 1031.7,271.4 1033.8,270.6 1035.8,269.8 1037.9,269.0 1039.9,268.7 1042.0,269.0 1042.0,275.0 1039.9,275.0 1037.9,275.3 1035.8,275.9 1033.8,276.6 1031.7,277.2 1029.6,277.8 1027.6,278.5 1025.5,279.1 1023.5,279.6 1021.4,280.0 1019.3,280.4 1017.3,280.7 1015.2,280.9 1013.2,281.0 1011.1,281.1 1009.0,281.2 1007.0,281.5 1004.9,282.1 1002.9,282.8 1000.8,283.5"/>
<polygon fill="#FF6A1F" points="1042.0,269.0 1044.0,271.0 1046.0,272.5 1048.1,272.7 1050.1,272.8 1052.1,272.8 1054.1,272.9 1056.2,273.2 1058.2,273.8 1060.2,274.6 1062.2,275.7 1064.3,277.1 1066.3,279.2 1068.3,281.0 1068.3,281.7 1066.3,280.1 1064.3,278.7 1062.2,277.9 1060.2,277.6 1058.2,277.3 1056.2,277.1 1054.1,277.0 1052.1,276.9 1050.1,276.9 1048.1,276.8 1046.0,276.7 1044.0,275.9 1042.0,275.0"/>
<polygon fill="#FFB0B0" points="1068.3,281.0 1070.3,282.3 1072.3,283.4 1074.3,284.6 1076.3,285.9 1078.3,287.3 1080.3,288.7 1082.3,290.1 1084.3,291.6 1086.4,293.1 1088.4,294.6 1090.4,295.9 1092.4,297.0 1094.4,297.9 1096.4,298.7 1098.4,299.4 1100.4,300.2 1102.4,300.9 1104.4,301.7 1106.4,302.5 1108.4,303.4 1110.4,304.4 1112.4,305.6 1114.4,306.9 1116.4,308.1 1118.4,309.4 1120.5,310.6 1122.5,311.8 1124.5,313.0 1126.5,314.1 1128.5,315.2 1130.5,316.2 1132.5,317.1 1134.5,317.9 1136.5,318.5 1138.5,319.2 1140.5,320.4 1142.5,323.4 1144.5,329.0 1146.5,336.8 1148.5,343.3 1150.5,350.3 1152.5,358.2 1154.5,365.9 1156.6,372.7 1158.6,379.0 1160.6,385.1 1162.6,390.9 1164.6,396.6 1166.6,402.3 1168.6,408.2 1170.6,413.9 1172.6,419.3 1174.6,424.4 1176.6,429.4 1178.6,434.3 1180.6,438.9 1182.6,443.3 1184.6,447.8 1186.6,452.3 1188.6,456.9 1190.7,461.5 1192.7,466.3 1194.7,471.2 1196.7,476.3 1198.7,481.6 1200.7,486.8 1202.7,491.9 1204.7,497.0 1206.7,502.0 1208.7,506.9 1210.7,511.7 1212.7,516.4 1214.7,521.2 1216.7,525.7 1218.7,530.0 1220.7,533.9 1222.7,537.5 1224.8,540.9 1226.8,544.2 1228.8,547.3 1230.8,550.2 1232.8,552.9 1234.8,555.4 1236.8,557.7 1238.8,559.9 1240.8,562.0 1242.8,564.1 1244.8,566.1 1246.8,568.0 1248.8,570.0 1250.8,571.9 1252.8,573.7 1254.8,575.4 1256.8,577.0 1258.8,578.4 1260.9,579.7 1262.9,580.9 1264.9,582.0 1266.9,583.1 1268.9,584.3 1270.9,585.6 1272.9,587.0 1274.9,588.4 1276.9,589.8 1278.9,591.3 1280.9,592.7 1282.9,594.0 1284.9,595.4 1286.9,596.8 1288.9,598.1 1290.9,599.3 1292.9,600.4 1295.0,601.2 1297.0,601.8 1299.0,602.3 1301.0,602.7 1303.0,603.3 1305.0,603.7 1307.0,604.0 1309.0,603.9 1311.0,603.7 1311.0,631.7 1309.0,633.1 1307.0,634.2 1305.0,635.0 1303.0,635.6 1301.0,636.0 1299.0,636.5 1297.0,636.8 1295.0,637.0 1292.9,636.8 1290.9,636.4 1288.9,635.8 1286.9,635.1 1284.9,634.4 1282.9,633.8 1280.9,633.4 1278.9,633.0 1276.9,632.6 1274.9,632.2 1272.9,631.8 1270.9,631.4 1268.9,631.0 1266.9,630.6 1264.9,630.3 1262.9,629.9 1260.9,629.5 1258.8,629.1 1256.8,628.6 1254.8,628.1 1252.8,627.6 1250.8,627.1 1248.8,626.5 1246.8,625.8 1244.8,624.9 1242.8,623.7 1240.8,622.0 1238.8,620.0 1236.8,617.7 1234.8,615.3 1232.8,612.8 1230.8,610.2 1228.8,607.3 1226.8,604.1 1224.8,600.7 1222.7,597.3 1220.7,593.8 1218.7,590.3 1216.7,586.9 1214.7,583.4 1212.7,579.7 1210.7,575.6 1208.7,570.7 1206.7,565.4 1204.7,560.2 1202.7,555.0 1200.7,549.8 1198.7,544.6 1196.7,539.5 1194.7,534.1 1192.7,528.1 1190.7,522.0 1188.6,515.9 1186.6,509.9 1184.6,503.9 1182.6,497.9 1180.6,491.9 1178.6,485.5 1176.6,478.7 1174.6,471.8 1172.6,465.1 1170.6,458.8 1168.6,453.2 1166.6,447.1 1164.6,440.6 1162.6,433.8 1160.6,426.6 1158.6,419.1 1156.6,411.3 1154.5,403.1 1152.5,394.6 1150.5,384.7 1148.5,371.5 1146.5,355.7 1144.5,340.6 1142.5,334.4 1140.5,333.5 1138.5,332.4 1136.5,331.2 1134.5,330.0 1132.5,328.7 1130.5,327.3 1128.5,325.8 1126.5,324.3 1124.5,322.9 1122.5,321.5 1120.5,320.1 1118.4,318.7 1116.4,317.3 1114.4,315.9 1112.4,314.4 1110.4,313.0 1108.4,311.8 1106.4,310.8 1104.4,310.1 1102.4,309.3 1100.4,308.5 1098.4,307.5 1096.4,306.3 1094.4,305.1 1092.4,303.8 1090.4,302.4 1088.4,300.8 1086.4,299.2 1084.3,297.6 1082.3,295.9 1080.3,294.2 1078.3,292.4 1076.3,290.5 1074.3,288.5 1072.3,286.1 1070.3,283.7 1068.3,281.7"/>
<polygon fill="#FF6A1F" points="1311.0,603.7 1313.0,603.5 1315.1,603.2 1317.1,602.8 1319.2,602.5 1321.2,602.1 1323.2,601.7 1325.3,601.2 1327.3,600.7 1329.3,600.2 1331.4,599.6 1333.4,599.0 1335.5,598.3 1337.5,597.7 1339.5,597.2 1341.6,596.6 1343.6,596.1 1345.7,595.7 1347.7,595.3 1349.7,595.0 1351.8,594.8 1353.8,594.7 1355.9,594.7 1357.9,594.8 1359.9,594.8 1362.0,594.9 1364.0,595.0 1366.0,595.2 1368.1,595.5 1370.1,595.8 1372.2,596.2 1374.2,596.7 1374.2,603.7 1372.2,603.4 1370.1,603.0 1368.1,602.8 1366.0,602.6 1364.0,602.5 1362.0,602.5 1359.9,602.6 1357.9,602.7 1355.9,602.8 1353.8,603.0 1351.8,603.3 1349.7,604.2 1347.7,605.3 1345.7,606.4 1343.6,607.7 1341.6,609.2 1339.5,610.8 1337.5,612.3 1335.5,613.9 1333.4,615.6 1331.4,617.2 1329.3,618.8 1327.3,620.3 1325.3,621.7 1323.2,623.1 1321.2,624.6 1319.2,626.0 1317.1,627.5 1315.1,628.9 1313.0,630.3 1311.0,631.7"/>
<polygon fill="#FFB0B0" points="1374.2,596.7 1376.3,597.4 1378.4,598.4 1380.4,599.6 1382.5,600.5 1384.6,601.2 1386.7,601.8 1388.8,602.3 1390.8,602.6 1392.9,602.9 1395.0,603.0 1395.0,608.3 1392.9,609.4 1390.8,610.2 1388.8,610.1 1386.7,609.3 1384.6,608.1 1382.5,607.2 1380.4,606.2 1378.4,605.1 1376.3,604.3 1374.2,603.7"/>
<polygon fill="#FF6A1F" points="1395.0,603.0 1397.0,601.5 1399.1,600.4 1401.1,599.6 1403.2,598.8 1405.2,597.9 1407.3,597.1 1409.3,596.3 1411.4,595.5 1413.4,594.6 1415.5,593.6 1417.5,592.5 1417.5,593.7 1415.5,595.0 1413.4,596.4 1411.4,597.9 1409.3,599.4 1407.3,600.9 1405.2,602.4 1403.2,603.7 1401.1,605.0 1399.1,606.2 1397.0,607.3 1395.0,608.3"/>
<polygon fill="#00FF00" points="1417.5,592.5 1419.5,591.0 1421.6,589.2 1423.6,587.2 1425.7,585.1 1427.7,582.7 1429.8,580.1 1431.8,577.5 1433.9,575.2 1435.9,572.9 1438.0,570.6 1440.0,568.7 1442.0,567.3 1444.1,566.3 1446.1,565.4 1448.2,564.7 1450.2,564.1 1452.3,563.7 1454.3,563.3 1456.4,562.9 1458.4,562.5 1460.5,561.9 1462.5,561.3 1464.5,560.7 1466.6,560.3 1468.6,560.1 1470.7,559.9 1472.7,559.8 1474.8,559.7 1476.8,559.8 1478.9,560.0 1480.9,560.3 1483.0,561.1 1485.0,562.0 1485.0,568.5 1483.0,568.4 1480.9,568.3 1478.9,568.3 1476.8,568.3 1474.8,568.3 1472.7,568.5 1470.7,568.9 1468.6,569.5 1466.6,570.0 1464.5,570.6 1462.5,571.2 1460.5,571.9 1458.4,572.5 1456.4,573.0 1454.3,573.5 1452.3,574.1 1450.2,574.6 1448.2,575.2 1446.1,575.8 1444.1,576.5 1442.0,577.3 1440.0,578.4 1438.0,579.8 1435.9,581.3 1433.9,582.9 1431.8,584.5 1429.8,586.2 1427.7,588.0 1425.7,589.6 1423.6,590.8 1421.6,591.7 1419.5,592.7 1417.5,593.7"/>
<polygon fill="#FF6A1F" points="1485.0,562.0 1487.1,562.5 1489.2,562.9 1491.2,563.4 1493.3,564.2 1495.4,565.1 1497.5,566.1 1499.6,567.3 1501.7,568.6 1503.8,570.2 1505.8,572.1 1507.9,574.0 1510.0,575.8 1510.0,576.7 1507.9,575.3 1505.8,574.2 1503.8,573.3 1501.7,572.4 1499.6,571.5 1497.5,570.5 1495.4,569.5 1493.3,568.7 1491.2,568.3 1489.2,568.3 1487.1,568.4 1485.0,568.5"/>
<polygon fill="#FFB0B0" points="1510.0,575.8 1512.0,577.6 1514.0,579.4 1516.0,581.1 1518.1,582.8 1520.1,584.5 1522.1,586.1 1524.1,587.7 1526.1,589.0 1528.1,590.3 1530.1,591.5 1532.2,592.6 1534.2,593.8 1536.2,595.1 1538.2,596.3 1540.2,597.5 1542.2,598.6 1544.2,599.6 1546.3,600.5 1548.3,601.4 1550.3,602.1 1552.3,602.7 1554.3,603.3 1556.3,603.8 1558.3,604.2 1560.4,604.6 1562.4,605.0 1564.4,605.4 1566.4,605.7 1568.4,606.1 1570.4,606.5 1572.5,606.9 1574.5,607.4 1576.5,607.9 1578.5,608.4 1580.5,609.0 1582.5,609.7 1584.5,610.5 1586.6,611.6 1588.6,612.7 1590.6,613.7 1592.6,614.5 1594.6,615.2 1596.6,615.8 1598.6,616.3 1600.7,616.9 1602.7,617.4 1604.7,617.9 1606.7,618.4 1608.7,618.8 1610.7,619.1 1612.7,619.4 1614.8,619.7 1616.8,620.0 1618.8,620.5 1620.8,621.0 1620.8,629.5 1618.8,629.8 1616.8,630.0 1614.8,629.9 1612.7,629.8 1610.7,629.5 1608.7,629.3 1606.7,629.0 1604.7,628.6 1602.7,628.2 1600.7,627.7 1598.6,627.1 1596.6,626.5 1594.6,625.7 1592.6,625.0 1590.6,624.3 1588.6,623.6 1586.6,622.8 1584.5,622.1 1582.5,621.4 1580.5,620.8 1578.5,620.2 1576.5,619.6 1574.5,619.1 1572.5,618.7 1570.4,618.3 1568.4,617.9 1566.4,617.4 1564.4,616.9 1562.4,616.3 1560.4,615.7 1558.3,615.0 1556.3,614.3 1554.3,613.6 1552.3,612.7 1550.3,611.8 1548.3,610.8 1546.3,609.7 1544.2,608.4 1542.2,607.1 1540.2,605.6 1538.2,604.0 1536.2,602.4 1534.2,600.7 1532.2,599.1 1530.1,597.5 1528.1,595.9 1526.1,594.3 1524.1,592.5 1522.1,590.6 1520.1,588.6 1518.1,586.5 1516.0,584.2 1514.0,581.5 1512.0,578.8 1510.0,576.7"/>
<polygon fill="#FF6A1F" points="1620.8,621.0 1622.8,621.5 1624.9,622.0 1626.9,622.4 1629.0,622.4 1631.0,621.7 1633.1,620.5 1635.1,619.5 1637.2,619.2 1639.2,619.3 1641.2,619.4 1643.3,619.6 1645.3,619.7 1647.4,619.7 1649.4,619.7 1651.5,619.7 1653.5,619.7 1655.6,619.7 1657.6,619.8 1659.7,620.3 1661.7,620.8 1661.7,625.3 1659.7,625.2 1657.6,625.1 1655.6,624.9 1653.5,624.7 1651.5,624.5 1649.4,624.3 1647.4,624.2 1645.3,624.2 1643.3,624.2 1641.2,624.2 1639.2,624.2 1637.2,624.2 1635.1,624.4 1633.1,625.2 1631.0,626.3 1629.0,627.3 1626.9,627.9 1624.9,628.5 1622.8,629.1 1620.8,629.5"/>
<polygon fill="#FFB0B0" points="1661.7,620.8 1663.7,621.2 1665.8,621.6 1667.8,621.9 1669.8,622.3 1671.8,622.6 1673.9,623.0 1675.9,623.5 1677.9,624.1 1680.0,624.7 1682.0,625.4 1684.0,626.0 1686.1,626.6 1688.1,627.2 1690.1,627.8 1692.2,628.4 1694.2,629.1 1696.2,629.7 1698.2,630.3 1700.3,630.9 1702.3,631.3 1704.3,631.8 1706.4,632.1 1708.4,632.5 1710.4,632.9 1712.4,633.3 1714.5,633.7 1716.5,633.9 1718.5,634.0 1720.6,633.4 1722.6,632.6 1722.6,638.5 1720.6,640.4 1718.5,642.1 1716.5,642.1 1714.5,641.8 1712.4,641.2 1710.4,640.6 1708.4,640.0 1706.4,639.5 1704.3,638.8 1702.3,638.2 1700.3,637.6 1698.2,637.0 1696.2,636.4 1694.2,635.7 1692.2,635.1 1690.1,634.5 1688.1,634.0 1686.1,633.4 1684.0,632.7 1682.0,632.0 1680.0,631.2 1677.9,630.3 1675.9,629.5 1673.9,628.8 1671.8,628.1 1669.8,627.3 1667.8,626.7 1665.8,626.1 1663.7,625.6 1661.7,625.3"/>
<polygon fill="#FF6A1F" points="1722.6,632.6 1724.7,631.9 1726.8,631.1 1729.0,630.1 1731.1,629.0 1733.2,627.4 1735.3,625.7 1737.5,624.0 1739.6,622.2 1739.6,623.0 1737.5,626.1 1735.3,629.7 1733.2,632.1 1731.1,634.0 1729.0,635.4 1726.8,636.5 1724.7,637.4 1722.6,638.5"/>
<polygon fill="#00FF00" points="1739.6,622.2 1741.6,620.2 1743.6,619.2 1745.6,618.6 1747.6,618.5 1749.6,618.5 1751.6,618.6 1753.6,619.0 1755.6,620.1 1757.6,626.1 1759.6,634.8 1759.6,638.5 1757.6,628.6 1755.6,622.7 1753.6,622.2 1751.6,622.2 1749.6,622.2 1747.6,622.2 1745.6,622.3 1743.6,622.7 1741.6,623.0 1739.6,623.0"/>
<polygon fill="#FFB0B0" points="1759.6,634.8 1761.8,638.9 1763.9,642.1 1766.1,645.1 1768.2,647.9 1770.4,651.0 1772.5,654.6 1774.7,658.5 1774.7,679.3 1772.5,673.1 1770.4,667.0 1768.2,661.0 1766.1,655.1 1763.9,649.4 1761.8,644.3 1759.6,638.5"/>
<polyline fill="none" stroke="#00FF00" stroke-width="1.4" points="1754.5,620.8 1756.2,622 1759.8,637.5"/>
</g>
<g stroke="#7272C2" stroke-width="1.7">
<line x1="2.2" y1="1072" x2="2.2" y2="1068.0"/>
<line x1="7.1" y1="1072" x2="7.1" y2="1069.0"/>
<line x1="11.9" y1="1072" x2="11.9" y2="1068.0"/>
<line x1="16.8" y1="1072" x2="16.8" y2="1070.0"/>
<line x1="21.7" y1="1072" x2="21.7" y2="1070.0"/>
<line x1="26.5" y1="1072" x2="26.5" y2="1067.0"/>
<line x1="31.4" y1="1072" x2="31.4" y2="1070.0"/>
<line x1="36.3" y1="1072" x2="36.3" y2="1068.0"/>
<line x1="41.1" y1="1072" x2="41.1" y2="1066.0"/>
<line x1="46.0" y1="1072" x2="46.0" y2="1070.0"/>
<line x1="50.9" y1="1072" x2="50.9" y2="1067.0"/>
<line x1="55.8" y1="1072" x2="55.8" y2="1069.0"/>
<line x1="60.6" y1="1072" x2="60.6" y2="1070.0"/>
<line x1="65.5" y1="1072" x2="65.5" y2="1070.0"/>
<line x1="70.4" y1="1072" x2="70.4" y2="1068.0"/>
<line x1="75.2" y1="1072" x2="75.2" y2="1068.0"/>
<line x1="80.1" y1="1072" x2="80.1" y2="1070.0"/>
<line x1="85.0" y1="1072" x2="85.0" y2="1069.0"/>
<line x1="89.8" y1="1072" x2="89.8" y2="1070.0"/>
<line x1="94.7" y1="1072" x2="94.7" y2="1067.0"/>
<line x1="99.6" y1="1072" x2="99.6" y2="1068.0"/>
<line x1="104.4" y1="1072" x2="104.4" y2="1070.0"/>
<line x1="109.3" y1="1072" x2="109.3" y2="1066.0"/>
<line x1="114.2" y1="1072" x2="114.2" y2="1070.0"/>
<line x1="119.0" y1="1072" x2="119.0" y2="1069.0"/>
<line x1="123.9" y1="1072" x2="123.9" y2="1066.0"/>
<line x1="128.8" y1="1072" x2="128.8" y2="1070.0"/>
<line x1="133.7" y1="1072" x2="133.7" y2="1066.0"/>
<line x1="138.5" y1="1072" x2="138.5" y2="1066.0"/>
<line x1="143.4" y1="1072" x2="143.4" y2="1068.0"/>
<line x1="148.3" y1="1072" x2="148.3" y2="1070.0"/>
<line x1="153.1" y1="1072" x2="153.1" y2="1069.0"/>
<line x1="158.0" y1="1072" x2="158.0" y2="1070.0"/>
<line x1="162.9" y1="1072" x2="162.9" y2="1067.0"/>
<line x1="167.7" y1="1072" x2="167.7" y2="1069.0"/>
<line x1="172.6" y1="1072" x2="172.6" y2="1069.0"/>
<line x1="177.5" y1="1072" x2="177.5" y2="1068.0"/>
<line x1="182.3" y1="1072" x2="182.3" y2="1069.0"/>
<line x1="187.2" y1="1072" x2="187.2" y2="1067.0"/>
<line x1="192.1" y1="1072" x2="192.1" y2="1070.0"/>
<line x1="196.9" y1="1072" x2="196.9" y2="1066.0"/>
<line x1="201.8" y1="1072" x2="201.8" y2="1069.0"/>
<line x1="206.7" y1="1072" x2="206.7" y2="1067.0"/>
<line x1="211.5" y1="1072" x2="211.5" y2="1069.0"/>
<line x1="216.4" y1="1072" x2="216.4" y2="1070.0"/>
<line x1="221.3" y1="1072" x2="221.3" y2="1066.0"/>
<line x1="226.2" y1="1072" x2="226.2" y2="1066.0"/>
<line x1="231.0" y1="1072" x2="231.0" y2="1069.0"/>
<line x1="235.9" y1="1072" x2="235.9" y2="1068.0"/>
<line x1="240.8" y1="1072" x2="240.8" y2="1070.0"/>
<line x1="245.6" y1="1072" x2="245.6" y2="1067.0"/>
<line x1="250.5" y1="1072" x2="250.5" y2="1070.0"/>
<line x1="255.4" y1="1072" x2="255.4" y2="1066.0"/>
<line x1="260.2" y1="1072" x2="260.2" y2="1070.0"/>
<line x1="265.1" y1="1072" x2="265.1" y2="1066.0"/>
<line x1="270.0" y1="1072" x2="270.0" y2="1069.0"/>
<line x1="274.8" y1="1072" x2="274.8" y2="1067.0"/>
<line x1="279.7" y1="1072" x2="279.7" y2="1067.0"/>
<line x1="284.6" y1="1072" x2="284.6" y2="1068.0"/>
<line x1="289.4" y1="1072" x2="289.4" y2="1068.0"/>
<line x1="294.3" y1="1072" x2="294.3" y2="1065.0"/>
<line x1="299.2" y1="1072" x2="299.2" y2="1064.0"/>
<line x1="304.1" y1="1072" x2="304.1" y2="1064.0"/>
<line x1="308.9" y1="1072" x2="308.9" y2="1064.0"/>
<line x1="313.8" y1="1072" x2="313.8" y2="1065.0"/>
<line x1="318.7" y1="1072" x2="318.7" y2="1069.0"/>
<line x1="323.5" y1="1072" x2="323.5" y2="1069.0"/>
<line x1="328.4" y1="1072" x2="328.4" y2="1069.0"/>
<line x1="333.3" y1="1072" x2="333.3" y2="1070.0"/>
<line x1="338.1" y1="1072" x2="338.1" y2="1066.0"/>
<line x1="343.0" y1="1072" x2="343.0" y2="1069.0"/>
<line x1="347.9" y1="1072" x2="347.9" y2="1067.0"/>
<line x1="352.7" y1="1072" x2="352.7" y2="1067.0"/>
<line x1="357.6" y1="1072" x2="357.6" y2="1068.0"/>
<line x1="362.5" y1="1072" x2="362.5" y2="1067.0"/>
<line x1="367.3" y1="1072" x2="367.3" y2="1069.0"/>
<line x1="372.2" y1="1072" x2="372.2" y2="1066.0"/>
<line x1="377.1" y1="1072" x2="377.1" y2="1070.0"/>
<line x1="382.0" y1="1072" x2="382.0" y2="1070.0"/>
<line x1="386.8" y1="1072" x2="386.8" y2="1067.0"/>
<line x1="391.7" y1="1072" x2="391.7" y2="1068.0"/>
<line x1="396.6" y1="1072" x2="396.6" y2="1069.0"/>
<line x1="401.4" y1="1072" x2="401.4" y2="1068.0"/>
<line x1="406.3" y1="1072" x2="406.3" y2="1069.0"/>
<line x1="411.2" y1="1072" x2="411.2" y2="1067.0"/>
<line x1="416.0" y1="1072" x2="416.0" y2="1068.0"/>
<line x1="420.9" y1="1072" x2="420.9" y2="1070.0"/>
<line x1="425.8" y1="1072" x2="425.8" y2="1070.0"/>
<line x1="430.6" y1="1072" x2="430.6" y2="1067.0"/>
<line x1="435.5" y1="1072" x2="435.5" y2="1066.0"/>
<line x1="440.4" y1="1072" x2="440.4" y2="1068.0"/>
<line x1="445.2" y1="1072" x2="445.2" y2="1068.0"/>
<line x1="450.1" y1="1072" x2="450.1" y2="1068.0"/>
<line x1="455.0" y1="1072" x2="455.0" y2="1061.0"/>
<line x1="459.8" y1="1072" x2="459.8" y2="1067.0"/>
<line x1="464.7" y1="1072" x2="464.7" y2="1066.0"/>
<line x1="469.6" y1="1072" x2="469.6" y2="1067.0"/>
<line x1="474.5" y1="1072" x2="474.5" y2="1070.0"/>
<line x1="479.3" y1="1072" x2="479.3" y2="1070.0"/>
<line x1="484.2" y1="1072" x2="484.2" y2="1069.0"/>
<line x1="489.1" y1="1072" x2="489.1" y2="1067.0"/>
<line x1="493.9" y1="1072" x2="493.9" y2="1070.0"/>
<line x1="498.8" y1="1072" x2="498.8" y2="1070.0"/>
<line x1="503.7" y1="1072" x2="503.7" y2="1069.0"/>
<line x1="508.5" y1="1072" x2="508.5" y2="1066.0"/>
<line x1="513.4" y1="1072" x2="513.4" y2="1067.0"/>
<line x1="518.3" y1="1072" x2="518.3" y2="1069.0"/>
<line x1="523.1" y1="1072" x2="523.1" y2="1068.0"/>
<line x1="528.0" y1="1072" x2="528.0" y2="1068.0"/>
<line x1="532.9" y1="1072" x2="532.9" y2="1035.0"/>
<line x1="537.7" y1="1072" x2="537.7" y2="1055.0"/>
<line x1="542.6" y1="1072" x2="542.6" y2="1061.0"/>
<line x1="547.5" y1="1072" x2="547.5" y2="1060.0"/>
<line x1="552.4" y1="1072" x2="552.4" y2="1064.0"/>
<line x1="557.2" y1="1072" x2="557.2" y2="1063.0"/>
<line x1="562.1" y1="1072" x2="562.1" y2="1064.0"/>
<line x1="567.0" y1="1072" x2="567.0" y2="1062.0"/>
<line x1="571.8" y1="1072" x2="571.8" y2="1065.0"/>
<line x1="576.7" y1="1072" x2="576.7" y2="1069.0"/>
<line x1="581.6" y1="1072" x2="581.6" y2="1069.0"/>
<line x1="586.4" y1="1072" x2="586.4" y2="1069.0"/>
<line x1="591.3" y1="1072" x2="591.3" y2="1068.0"/>
<line x1="596.2" y1="1072" x2="596.2" y2="1068.0"/>
<line x1="601.0" y1="1072" x2="601.0" y2="1067.0"/>
<line x1="605.9" y1="1072" x2="605.9" y2="1070.0"/>
<line x1="610.8" y1="1072" x2="610.8" y2="1069.0"/>
<line x1="615.6" y1="1072" x2="615.6" y2="1067.0"/>
<line x1="620.5" y1="1072" x2="620.5" y2="1068.0"/>
<line x1="625.4" y1="1072" x2="625.4" y2="1067.0"/>
<line x1="630.2" y1="1072" x2="630.2" y2="1069.0"/>
<line x1="635.1" y1="1072" x2="635.1" y2="1069.0"/>
<line x1="640.0" y1="1072" x2="640.0" y2="1068.0"/>
<line x1="644.9" y1="1072" x2="644.9" y2="1067.0"/>
<line x1="649.7" y1="1072" x2="649.7" y2="1069.0"/>
<line x1="654.6" y1="1072" x2="654.6" y2="1068.0"/>
<line x1="659.5" y1="1072" x2="659.5" y2="1068.0"/>
<line x1="664.3" y1="1072" x2="664.3" y2="1068.0"/>
<line x1="669.2" y1="1072" x2="669.2" y2="1069.0"/>
<line x1="674.1" y1="1072" x2="674.1" y2="1069.0"/>
<line x1="678.9" y1="1072" x2="678.9" y2="1070.0"/>
<line x1="683.8" y1="1072" x2="683.8" y2="1069.0"/>
<line x1="688.7" y1="1072" x2="688.7" y2="1069.0"/>
<line x1="693.5" y1="1072" x2="693.5" y2="1069.0"/>
<line x1="698.4" y1="1072" x2="698.4" y2="1069.0"/>
<line x1="703.3" y1="1072" x2="703.3" y2="1070.0"/>
<line x1="708.1" y1="1072" x2="708.1" y2="1067.0"/>
<line x1="713.0" y1="1072" x2="713.0" y2="1066.0"/>
<line x1="717.9" y1="1072" x2="717.9" y2="1069.0"/>
<line x1="722.8" y1="1072" x2="722.8" y2="1069.0"/>
<line x1="727.6" y1="1072" x2="727.6" y2="1069.0"/>
<line x1="732.5" y1="1072" x2="732.5" y2="1070.0"/>
<line x1="737.4" y1="1072" x2="737.4" y2="1069.0"/>
<line x1="742.2" y1="1072" x2="742.2" y2="1068.0"/>
<line x1="747.1" y1="1072" x2="747.1" y2="1067.0"/>
<line x1="752.0" y1="1072" x2="752.0" y2="1068.0"/>
<line x1="756.8" y1="1072" x2="756.8" y2="1066.0"/>
<line x1="761.7" y1="1072" x2="761.7" y2="1066.0"/>
<line x1="766.6" y1="1072" x2="766.6" y2="1068.0"/>
<line x1="771.4" y1="1072" x2="771.4" y2="1069.0"/>
<line x1="776.3" y1="1072" x2="776.3" y2="1067.0"/>
<line x1="781.2" y1="1072" x2="781.2" y2="1066.0"/>
<line x1="786.0" y1="1072" x2="786.0" y2="1070.0"/>
<line x1="790.9" y1="1072" x2="790.9" y2="1067.0"/>
<line x1="795.8" y1="1072" x2="795.8" y2="1067.0"/>
<line x1="800.7" y1="1072" x2="800.7" y2="1068.0"/>
<line x1="805.5" y1="1072" x2="805.5" y2="1068.0"/>
<line x1="810.4" y1="1072" x2="810.4" y2="1068.0"/>
<line x1="815.3" y1="1072" x2="815.3" y2="1068.0"/>
<line x1="820.1" y1="1072" x2="820.1" y2="1062.0"/>
<line x1="825.0" y1="1072" x2="825.0" y2="1067.0"/>
<line x1="829.9" y1="1072" x2="829.9" y2="1068.0"/>
<line x1="834.7" y1="1072" x2="834.7" y2="1070.0"/>
<line x1="839.6" y1="1072" x2="839.6" y2="1069.0"/>
<line x1="844.5" y1="1072" x2="844.5" y2="1070.0"/>
<line x1="849.3" y1="1072" x2="849.3" y2="1069.0"/>
<line x1="854.2" y1="1072" x2="854.2" y2="1067.0"/>
<line x1="859.1" y1="1072" x2="859.1" y2="1069.0"/>
<line x1="863.9" y1="1072" x2="863.9" y2="1070.0"/>
<line x1="868.8" y1="1072" x2="868.8" y2="1068.0"/>
<line x1="873.7" y1="1072" x2="873.7" y2="1066.0"/>
<line x1="878.5" y1="1072" x2="878.5" y2="1070.0"/>
<line x1="883.4" y1="1072" x2="883.4" y2="1070.0"/>
<line x1="888.3" y1="1072" x2="888.3" y2="1070.0"/>
<line x1="893.2" y1="1072" x2="893.2" y2="1066.0"/>
<line x1="898.0" y1="1072" x2="898.0" y2="1069.0"/>
<line x1="902.9" y1="1072" x2="902.9" y2="1067.0"/>
<line x1="907.8" y1="1072" x2="907.8" y2="1070.0"/>
<line x1="912.6" y1="1072" x2="912.6" y2="1064.0"/>
<line x1="917.5" y1="1072" x2="917.5" y2="1066.0"/>
<line x1="922.4" y1="1072" x2="922.4" y2="1070.0"/>
<line x1="927.2" y1="1072" x2="927.2" y2="1070.0"/>
<line x1="932.1" y1="1072" x2="932.1" y2="1069.0"/>
<line x1="937.0" y1="1072" x2="937.0" y2="1066.0"/>
<line x1="941.8" y1="1072" x2="941.8" y2="1068.0"/>
<line x1="946.7" y1="1072" x2="946.7" y2="1069.0"/>
<line x1="951.6" y1="1072" x2="951.6" y2="1069.0"/>
<line x1="956.4" y1="1072" x2="956.4" y2="1068.0"/>
<line x1="961.3" y1="1072" x2="961.3" y2="1066.0"/>
<line x1="966.2" y1="1072" x2="966.2" y2="1068.0"/>
<line x1="971.1" y1="1072" x2="971.1" y2="1067.0"/>
<line x1="975.9" y1="1072" x2="975.9" y2="1070.0"/>
<line x1="980.8" y1="1072" x2="980.8" y2="1070.0"/>
<line x1="985.7" y1="1072" x2="985.7" y2="1067.0"/>
<line x1="990.5" y1="1072" x2="990.5" y2="1067.0"/>
<line x1="995.4" y1="1072" x2="995.4" y2="1067.0"/>
<line x1="1000.3" y1="1072" x2="1000.3" y2="1067.0"/>
<line x1="1005.1" y1="1072" x2="1005.1" y2="1069.0"/>
<line x1="1010.0" y1="1072" x2="1010.0" y2="1070.0"/>
<line x1="1014.9" y1="1072" x2="1014.9" y2="1069.0"/>
<line x1="1019.7" y1="1072" x2="1019.7" y2="1070.0"/>
<line x1="1024.6" y1="1072" x2="1024.6" y2="1068.0"/>
<line x1="1029.5" y1="1072" x2="1029.5" y2="1069.0"/>
<line x1="1034.3" y1="1072" x2="1034.3" y2="1067.0"/>
<line x1="1039.2" y1="1072" x2="1039.2" y2="1069.0"/>
<line x1="1044.1" y1="1072" x2="1044.1" y2="1067.0"/>
<line x1="1048.9" y1="1072" x2="1048.9" y2="1070.0"/>
<line x1="1053.8" y1="1072" x2="1053.8" y2="1069.0"/>
<line x1="1058.7" y1="1072" x2="1058.7" y2="1067.0"/>
<line x1="1063.6" y1="1072" x2="1063.6" y2="1068.0"/>
<line x1="1068.4" y1="1072" x2="1068.4" y2="1069.0"/>
<line x1="1073.3" y1="1072" x2="1073.3" y2="1067.0"/>
<line x1="1078.2" y1="1072" x2="1078.2" y2="1070.0"/>
<line x1="1083.0" y1="1072" x2="1083.0" y2="1067.0"/>
<line x1="1087.9" y1="1072" x2="1087.9" y2="1069.0"/>
<line x1="1092.8" y1="1072" x2="1092.8" y2="1070.0"/>
<line x1="1097.6" y1="1072" x2="1097.6" y2="1069.0"/>
<line x1="1102.5" y1="1072" x2="1102.5" y2="1067.0"/>
<line x1="1107.4" y1="1072" x2="1107.4" y2="1068.0"/>
<line x1="1112.2" y1="1072" x2="1112.2" y2="1069.0"/>
<line x1="1117.1" y1="1072" x2="1117.1" y2="1068.0"/>
<line x1="1122.0" y1="1072" x2="1122.0" y2="1069.0"/>
<line x1="1126.8" y1="1072" x2="1126.8" y2="1067.0"/>
<line x1="1131.7" y1="1072" x2="1131.7" y2="1067.0"/>
<line x1="1136.6" y1="1072" x2="1136.6" y2="1067.0"/>
<line x1="1141.5" y1="1072" x2="1141.5" y2="1068.0"/>
<line x1="1146.3" y1="1072" x2="1146.3" y2="986.2"/>
<line x1="1151.2" y1="1072" x2="1151.2" y2="990.0"/>
<line x1="1156.1" y1="1072" x2="1156.1" y2="1035.0"/>
<line x1="1160.9" y1="1072" x2="1160.9" y2="1056.0"/>
<line x1="1165.8" y1="1072" x2="1165.8" y2="1059.0"/>
<line x1="1170.7" y1="1072" x2="1170.7" y2="1049.0"/>
<line x1="1175.5" y1="1072" x2="1175.5" y2="1061.0"/>
<line x1="1180.4" y1="1072" x2="1180.4" y2="1056.0"/>
<line x1="1185.3" y1="1072" x2="1185.3" y2="1057.5"/>
<line x1="1190.1" y1="1072" x2="1190.1" y2="1051.0"/>
<line x1="1195.0" y1="1072" x2="1195.0" y2="1045.5"/>
<line x1="1199.9" y1="1072" x2="1199.9" y2="1061.0"/>
<line x1="1204.7" y1="1072" x2="1204.7" y2="1062.0"/>
<line x1="1209.6" y1="1072" x2="1209.6" y2="1057.0"/>
<line x1="1214.5" y1="1072" x2="1214.5" y2="1060.0"/>
<line x1="1219.3" y1="1072" x2="1219.3" y2="1062.0"/>
<line x1="1224.2" y1="1072" x2="1224.2" y2="1062.0"/>
<line x1="1229.1" y1="1072" x2="1229.1" y2="1062.0"/>
<line x1="1234.0" y1="1072" x2="1234.0" y2="1059.0"/>
<line x1="1238.8" y1="1072" x2="1238.8" y2="1064.0"/>
<line x1="1243.7" y1="1072" x2="1243.7" y2="1061.0"/>
<line x1="1248.6" y1="1072" x2="1248.6" y2="1064.0"/>
<line x1="1253.4" y1="1072" x2="1253.4" y2="1060.0"/>
<line x1="1258.3" y1="1072" x2="1258.3" y2="1064.0"/>
<line x1="1263.2" y1="1072" x2="1263.2" y2="1062.0"/>
<line x1="1268.0" y1="1072" x2="1268.0" y2="1064.0"/>
<line x1="1272.9" y1="1072" x2="1272.9" y2="1060.0"/>
<line x1="1277.8" y1="1072" x2="1277.8" y2="1062.0"/>
<line x1="1282.6" y1="1072" x2="1282.6" y2="1059.0"/>
<line x1="1287.5" y1="1072" x2="1287.5" y2="1062.0"/>
<line x1="1292.4" y1="1072" x2="1292.4" y2="1066.0"/>
<line x1="1297.2" y1="1072" x2="1297.2" y2="1066.0"/>
<line x1="1302.1" y1="1072" x2="1302.1" y2="1050.0"/>
<line x1="1307.0" y1="1072" x2="1307.0" y2="1064.0"/>
<line x1="1311.9" y1="1072" x2="1311.9" y2="1060.0"/>
<line x1="1316.7" y1="1072" x2="1316.7" y2="1065.0"/>
<line x1="1321.6" y1="1072" x2="1321.6" y2="1058.0"/>
<line x1="1326.5" y1="1072" x2="1326.5" y2="1062.0"/>
<line x1="1331.3" y1="1072" x2="1331.3" y2="1066.0"/>
<line x1="1336.2" y1="1072" x2="1336.2" y2="1061.0"/>
<line x1="1341.1" y1="1072" x2="1341.1" y2="1060.0"/>
<line x1="1345.9" y1="1072" x2="1345.9" y2="1061.0"/>
<line x1="1350.8" y1="1072" x2="1350.8" y2="1066.0"/>
<line x1="1355.7" y1="1072" x2="1355.7" y2="1065.0"/>
<line x1="1360.5" y1="1072" x2="1360.5" y2="1065.0"/>
<line x1="1365.4" y1="1072" x2="1365.4" y2="1065.0"/>
<line x1="1370.3" y1="1072" x2="1370.3" y2="1067.0"/>
<line x1="1375.1" y1="1072" x2="1375.1" y2="1065.0"/>
<line x1="1380.0" y1="1072" x2="1380.0" y2="1060.0"/>
<line x1="1384.9" y1="1072" x2="1384.9" y2="1065.0"/>
<line x1="1389.8" y1="1072" x2="1389.8" y2="1060.0"/>
<line x1="1394.6" y1="1072" x2="1394.6" y2="1062.0"/>
<line x1="1399.5" y1="1072" x2="1399.5" y2="1056.0"/>
<line x1="1404.4" y1="1072" x2="1404.4" y2="1065.0"/>
<line x1="1409.2" y1="1072" x2="1409.2" y2="1067.0"/>
<line x1="1414.1" y1="1072" x2="1414.1" y2="1067.0"/>
<line x1="1419.0" y1="1072" x2="1419.0" y2="1055.0"/>
<line x1="1423.8" y1="1072" x2="1423.8" y2="1065.0"/>
<line x1="1428.7" y1="1072" x2="1428.7" y2="1061.0"/>
<line x1="1433.6" y1="1072" x2="1433.6" y2="1064.0"/>
<line x1="1438.4" y1="1072" x2="1438.4" y2="1064.0"/>
<line x1="1443.3" y1="1072" x2="1443.3" y2="1067.0"/>
<line x1="1448.2" y1="1072" x2="1448.2" y2="1063.0"/>
<line x1="1453.0" y1="1072" x2="1453.0" y2="1064.0"/>
<line x1="1457.9" y1="1072" x2="1457.9" y2="1063.0"/>
<line x1="1462.8" y1="1072" x2="1462.8" y2="1067.0"/>
<line x1="1467.6" y1="1072" x2="1467.6" y2="1066.0"/>
<line x1="1472.5" y1="1072" x2="1472.5" y2="1067.0"/>
<line x1="1477.4" y1="1072" x2="1477.4" y2="1065.0"/>
<line x1="1482.3" y1="1072" x2="1482.3" y2="1068.0"/>
<line x1="1487.1" y1="1072" x2="1487.1" y2="1069.0"/>
<line x1="1492.0" y1="1072" x2="1492.0" y2="1066.0"/>
<line x1="1496.9" y1="1072" x2="1496.9" y2="1064.0"/>
<line x1="1501.7" y1="1072" x2="1501.7" y2="1065.0"/>
<line x1="1506.6" y1="1072" x2="1506.6" y2="1068.0"/>
<line x1="1511.5" y1="1072" x2="1511.5" y2="1068.0"/>
<line x1="1516.3" y1="1072" x2="1516.3" y2="1069.0"/>
<line x1="1521.2" y1="1072" x2="1521.2" y2="1064.0"/>
<line x1="1526.1" y1="1072" x2="1526.1" y2="1068.0"/>
<line x1="1530.9" y1="1072" x2="1530.9" y2="1069.0"/>
<line x1="1535.8" y1="1072" x2="1535.8" y2="1068.0"/>
<line x1="1540.7" y1="1072" x2="1540.7" y2="1068.0"/>
<line x1="1545.5" y1="1072" x2="1545.5" y2="1068.0"/>
<line x1="1550.4" y1="1072" x2="1550.4" y2="1054.0"/>
<line x1="1555.3" y1="1072" x2="1555.3" y2="1068.0"/>
<line x1="1560.2" y1="1072" x2="1560.2" y2="1069.0"/>
<line x1="1565.0" y1="1072" x2="1565.0" y2="1066.0"/>
<line x1="1569.9" y1="1072" x2="1569.9" y2="1064.0"/>
<line x1="1574.8" y1="1072" x2="1574.8" y2="1068.0"/>
<line x1="1579.6" y1="1072" x2="1579.6" y2="1069.0"/>
<line x1="1584.5" y1="1072" x2="1584.5" y2="1067.0"/>
<line x1="1589.4" y1="1072" x2="1589.4" y2="1067.0"/>
<line x1="1594.2" y1="1072" x2="1594.2" y2="1067.0"/>
<line x1="1599.1" y1="1072" x2="1599.1" y2="1069.0"/>
<line x1="1604.0" y1="1072" x2="1604.0" y2="1068.0"/>
<line x1="1608.8" y1="1072" x2="1608.8" y2="1064.0"/>
<line x1="1613.7" y1="1072" x2="1613.7" y2="1069.0"/>
<line x1="1618.6" y1="1072" x2="1618.6" y2="1065.4"/>
<line x1="1623.4" y1="1072" x2="1623.4" y2="1064.0"/>
<line x1="1628.3" y1="1072" x2="1628.3" y2="1066.0"/>
<line x1="1633.2" y1="1072" x2="1633.2" y2="1067.0"/>
<line x1="1638.0" y1="1072" x2="1638.0" y2="1067.0"/>
<line x1="1642.9" y1="1072" x2="1642.9" y2="1064.4"/>
<line x1="1647.8" y1="1072" x2="1647.8" y2="1064.0"/>
<line x1="1652.7" y1="1072" x2="1652.7" y2="1067.0"/>
<line x1="1657.5" y1="1072" x2="1657.5" y2="1067.0"/>
<line x1="1662.4" y1="1072" x2="1662.4" y2="1067.0"/>
<line x1="1667.3" y1="1072" x2="1667.3" y2="1064.0"/>
<line x1="1672.1" y1="1072" x2="1672.1" y2="1061.4"/>
<line x1="1677.0" y1="1072" x2="1677.0" y2="1065.0"/>
<line x1="1681.9" y1="1072" x2="1681.9" y2="1068.0"/>
<line x1="1686.7" y1="1072" x2="1686.7" y2="1065.0"/>
<line x1="1691.6" y1="1072" x2="1691.6" y2="1064.0"/>
<line x1="1696.5" y1="1072" x2="1696.5" y2="1066.0"/>
<line x1="1701.3" y1="1072" x2="1701.3" y2="1068.0"/>
<line x1="1706.2" y1="1072" x2="1706.2" y2="1067.0"/>
<line x1="1711.1" y1="1072" x2="1711.1" y2="1064.4"/>
<line x1="1715.9" y1="1072" x2="1715.9" y2="1068.0"/>
<line x1="1720.8" y1="1072" x2="1720.8" y2="1067.0"/>
<line x1="1725.7" y1="1072" x2="1725.7" y2="1067.0"/>
<line x1="1730.6" y1="1072" x2="1730.6" y2="1068.0"/>
<line x1="1735.4" y1="1072" x2="1735.4" y2="1068.0"/>
<line x1="1740.3" y1="1072" x2="1740.3" y2="1063.5"/>
<line x1="1745.2" y1="1072" x2="1745.2" y2="1061.4"/>
<line x1="1750.0" y1="1072" x2="1750.0" y2="1065.4"/>
<line x1="1754.9" y1="1072" x2="1754.9" y2="1067.2"/>
<line x1="1759.8" y1="1072" x2="1759.8" y2="917.0"/>
<line x1="1764.6" y1="1072" x2="1764.6" y2="1015.0"/>
<line x1="1769.5" y1="1072" x2="1769.5" y2="1034.0"/>
<line x1="1774.4" y1="1072" x2="1774.4" y2="1037.0"/>
</g>
<polyline fill="none" stroke="#FF0000" stroke-width="1.9" points="2.0,1067.0 37.0,1067.0 37.5,1067.8 1146.0,1068.5 1149.0,1066.2 1160.0,1066.0 1183.0,1065.0 1186.0,1063.9 1210.0,1063.6 1270.0,1062.6 1273.0,1062.0 1306.0,1062.0 1308.0,1060.8 1351.0,1060.8 1353.0,1059.6 1433.0,1059.6 1435.0,1058.8 1447.0,1058.8 1452.0,1061.2 1460.0,1062.5 1485.0,1062.5 1487.0,1063.8 1510.0,1063.8 1512.0,1065.0 1583.0,1065.0 1585.0,1066.0 1650.0,1066.0 1652.0,1067.0 1755.0,1067.0 1758.0,1065.0 1760.0,1063.5 1775.0,1062.6"/>
<g stroke="#000" stroke-width="1.3" fill="#000">
<line x1="2.20" y1="145.0" x2="2.20" y2="180.8"/>
<rect x="0.20" y="147.5" width="4.00" height="27.5" stroke="none"/>
<line x1="7.07" y1="163.3" x2="7.07" y2="198.3"/>
<rect x="5.62" y="173.1" width="2.90" height="18.9" fill="#fff" stroke-width="1.1"/>
<line x1="11.94" y1="164.2" x2="11.94" y2="180.8"/>
<rect x="10.49" y="165.2" width="2.90" height="5.6" fill="#fff" stroke-width="1.1"/>
<line x1="16.81" y1="161.3" x2="16.81" y2="170.8"/>
<rect x="14.81" y="161.3" width="4.00" height="6.2" stroke="none"/>
<line x1="21.67" y1="156.7" x2="21.67" y2="176.3"/>
<rect x="20.22" y="161.9" width="2.90" height="13.9" fill="#fff" stroke-width="1.1"/>
<line x1="26.54" y1="165.0" x2="26.54" y2="178.7"/>
<rect x="25.09" y="170.2" width="2.90" height="1.8" fill="#fff" stroke-width="1.1"/>
<line x1="31.41" y1="158.3" x2="31.41" y2="174.7"/>
<rect x="29.96" y="172.2" width="2.90" height="1.9" fill="#fff" stroke-width="1.1"/>
<line x1="36.28" y1="147.0" x2="36.28" y2="170.8"/>
<rect x="34.28" y="164.7" width="4.00" height="5.0" stroke="none"/>
<line x1="41.15" y1="183.0" x2="41.15" y2="200.8"/>
<rect x="39.15" y="190.0" width="4.00" height="10.3" stroke="none"/>
<line x1="46.02" y1="196.7" x2="46.02" y2="215.0"/>
<rect x="44.57" y="200.2" width="2.90" height="4.6" fill="#fff" stroke-width="1.1"/>
<line x1="50.89" y1="188.3" x2="50.89" y2="204.2"/>
<rect x="48.89" y="200.3" width="4.00" height="2.7" stroke="none"/>
<line x1="55.75" y1="198.3" x2="55.75" y2="219.2"/>
<rect x="53.75" y="204.2" width="4.00" height="11.2" stroke="none"/>
<line x1="60.62" y1="200.8" x2="60.62" y2="221.7"/>
<rect x="58.62" y="207.5" width="4.00" height="7.8" stroke="none"/>
<line x1="65.49" y1="185.0" x2="65.49" y2="211.7"/>
<rect x="64.04" y="198.1" width="2.90" height="9.7" fill="#fff" stroke-width="1.1"/>
<line x1="70.36" y1="185.0" x2="70.36" y2="206.7"/>
<rect x="68.91" y="196.4" width="2.90" height="2.2" fill="#fff" stroke-width="1.1"/>
<line x1="75.23" y1="183.0" x2="75.23" y2="198.3"/>
<rect x="73.23" y="184.2" width="4.00" height="5.5" stroke="none"/>
<line x1="80.10" y1="201.7" x2="80.10" y2="217.0"/>
<rect x="78.65" y="205.2" width="2.90" height="8.4" fill="#fff" stroke-width="1.1"/>
<line x1="84.97" y1="201.3" x2="84.97" y2="222.5"/>
<rect x="82.97" y="210.3" width="4.00" height="12.2" stroke="none"/>
<line x1="89.83" y1="207.5" x2="89.83" y2="225.0"/>
<rect x="88.38" y="213.9" width="2.90" height="8.6" fill="#fff" stroke-width="1.1"/>
<line x1="94.70" y1="195.3" x2="94.70" y2="230.0"/>
<rect x="92.70" y="204.7" width="4.00" height="10.7" stroke="none"/>
<line x1="99.57" y1="223.3" x2="99.57" y2="244.7"/>
<line x1="97.6" y1="227.1" x2="101.6" y2="227.1"/>
<line x1="104.44" y1="240.3" x2="104.44" y2="263.0"/>
<rect x="102.44" y="243.3" width="4.00" height="13.3" stroke="none"/>
<line x1="109.31" y1="259.2" x2="109.31" y2="285.8"/>
<rect x="107.31" y="259.2" width="4.00" height="23.8" stroke="none"/>
<line x1="114.18" y1="282.5" x2="114.18" y2="296.7"/>
<rect x="112.18" y="282.5" width="4.00" height="4.2" stroke="none"/>
<line x1="119.05" y1="279.2" x2="119.05" y2="316.7"/>
<rect x="117.05" y="279.2" width="4.00" height="22.2" stroke="none"/>
<line x1="123.91" y1="283.3" x2="123.91" y2="304.7"/>
<rect x="122.46" y="300.2" width="2.90" height="3.9" fill="#fff" stroke-width="1.1"/>
<line x1="128.78" y1="295.3" x2="128.78" y2="309.7"/>
<rect x="127.33" y="299.7" width="2.90" height="1.8" fill="#fff" stroke-width="1.1"/>
<line x1="133.65" y1="282.5" x2="133.65" y2="314.2"/>
<rect x="132.20" y="288.1" width="2.90" height="21.1" fill="#fff" stroke-width="1.1"/>
<line x1="138.52" y1="241.3" x2="138.52" y2="287.5"/>
<rect x="137.07" y="241.9" width="2.90" height="45.1" fill="#fff" stroke-width="1.1"/>
<line x1="143.39" y1="223.3" x2="143.39" y2="249.7"/>
<rect x="141.94" y="234.2" width="2.90" height="6.6" fill="#fff" stroke-width="1.1"/>
<line x1="148.26" y1="195.3" x2="148.26" y2="223.7"/>
<rect x="146.81" y="200.9" width="2.90" height="22.2" fill="#fff" stroke-width="1.1"/>
<line x1="153.13" y1="183.3" x2="153.13" y2="201.7"/>
<rect x="151.68" y="190.9" width="2.90" height="1.8" fill="#fff" stroke-width="1.1"/>
<line x1="158.00" y1="167.0" x2="158.00" y2="194.7"/>
<rect x="156.00" y="184.2" width="4.00" height="3.3" stroke="none"/>
<line x1="162.86" y1="178.3" x2="162.86" y2="190.8"/>
<line x1="160.9" y1="185.0" x2="164.9" y2="185.0"/>
<line x1="167.73" y1="187.5" x2="167.73" y2="206.7"/>
<rect x="165.73" y="192.0" width="4.00" height="7.7" stroke="none"/>
<line x1="172.60" y1="198.3" x2="172.60" y2="212.5"/>
<rect x="170.60" y="200.0" width="4.00" height="8.7" stroke="none"/>
<line x1="177.47" y1="209.2" x2="177.47" y2="226.3"/>
<rect x="176.02" y="210.6" width="2.90" height="15.2" fill="#fff" stroke-width="1.1"/>
<line x1="182.34" y1="205.3" x2="182.34" y2="225.0"/>
<rect x="180.34" y="210.3" width="4.00" height="10.5" stroke="none"/>
<line x1="187.21" y1="196.3" x2="187.21" y2="229.7"/>
<rect x="185.21" y="200.3" width="4.00" height="18.0" stroke="none"/>
<line x1="192.08" y1="183.3" x2="192.08" y2="204.7"/>
<rect x="190.08" y="197.5" width="4.00" height="7.2" stroke="none"/>
<line x1="196.94" y1="197.5" x2="196.94" y2="227.5"/>
<rect x="194.94" y="197.5" width="4.00" height="20.0" stroke="none"/>
<line x1="201.81" y1="195.3" x2="201.81" y2="222.5"/>
<rect x="199.81" y="195.3" width="4.00" height="27.2" stroke="none"/>
<line x1="206.68" y1="222.5" x2="206.68" y2="235.8"/>
<rect x="204.68" y="222.5" width="4.00" height="3.3" stroke="none"/>
<line x1="211.55" y1="217.0" x2="211.55" y2="237.5"/>
<rect x="209.55" y="217.0" width="4.00" height="16.3" stroke="none"/>
<line x1="216.42" y1="228.3" x2="216.42" y2="247.5"/>
<rect x="214.42" y="228.3" width="4.00" height="13.3" stroke="none"/>
<line x1="221.29" y1="230.0" x2="221.29" y2="272.5"/>
<rect x="219.84" y="237.2" width="2.90" height="15.6" fill="#fff" stroke-width="1.1"/>
<line x1="226.16" y1="225.8" x2="226.16" y2="238.3"/>
<rect x="224.16" y="235.0" width="4.00" height="2.0" stroke="none"/>
<line x1="231.02" y1="225.3" x2="231.02" y2="254.7"/>
<rect x="229.02" y="225.3" width="4.00" height="16.3" stroke="none"/>
<line x1="235.89" y1="236.7" x2="235.89" y2="268.0"/>
<rect x="233.89" y="248.3" width="4.00" height="18.7" stroke="none"/>
<line x1="240.76" y1="265.8" x2="240.76" y2="290.8"/>
<rect x="238.76" y="266.3" width="4.00" height="21.2" stroke="none"/>
<line x1="245.63" y1="271.7" x2="245.63" y2="308.3"/>
<rect x="244.18" y="272.2" width="2.90" height="3.6" fill="#fff" stroke-width="1.1"/>
<line x1="250.50" y1="282.5" x2="250.50" y2="313.3"/>
<rect x="248.50" y="282.5" width="4.00" height="18.8" stroke="none"/>
<line x1="255.37" y1="274.7" x2="255.37" y2="314.2"/>
<rect x="253.92" y="275.2" width="2.90" height="6.7" fill="#fff" stroke-width="1.1"/>
<line x1="260.24" y1="274.7" x2="260.24" y2="293.7"/>
<line x1="258.2" y1="286.7" x2="262.2" y2="286.7"/>
<line x1="265.10" y1="251.3" x2="265.10" y2="287.5"/>
<rect x="263.65" y="251.9" width="2.90" height="35.1" fill="#fff" stroke-width="1.1"/>
<line x1="269.97" y1="255.0" x2="269.97" y2="282.5"/>
<rect x="267.97" y="261.3" width="4.00" height="21.2" stroke="none"/>
<line x1="274.84" y1="270.8" x2="274.84" y2="287.5"/>
<rect x="273.39" y="276.9" width="2.90" height="10.1" fill="#fff" stroke-width="1.1"/>
<line x1="279.71" y1="265.8" x2="279.71" y2="277.5"/>
<rect x="277.71" y="266.7" width="4.00" height="8.0" stroke="none"/>
<line x1="284.58" y1="256.7" x2="284.58" y2="273.3"/>
<rect x="283.13" y="267.2" width="2.90" height="3.9" fill="#fff" stroke-width="1.1"/>
<line x1="289.45" y1="268.3" x2="289.45" y2="285.8"/>
<rect x="287.45" y="269.2" width="4.00" height="2.5" stroke="none"/>
<line x1="294.32" y1="252.5" x2="294.32" y2="281.7"/>
<rect x="292.32" y="255.3" width="4.00" height="19.3" stroke="none"/>
<line x1="299.18" y1="274.2" x2="299.18" y2="292.5"/>
<rect x="297.18" y="274.7" width="4.00" height="3.7" stroke="none"/>
<line x1="304.05" y1="272.5" x2="304.05" y2="286.7"/>
<line x1="302.1" y1="278.8" x2="306.1" y2="278.8"/>
<line x1="308.92" y1="273.3" x2="308.92" y2="285.8"/>
<rect x="307.47" y="277.6" width="2.90" height="4.9" fill="#fff" stroke-width="1.1"/>
<line x1="313.79" y1="267.5" x2="313.79" y2="281.7"/>
<rect x="312.34" y="270.2" width="2.90" height="3.9" fill="#fff" stroke-width="1.1"/>
<line x1="318.66" y1="232.5" x2="318.66" y2="277.5"/>
<rect x="317.21" y="239.2" width="2.90" height="28.6" fill="#fff" stroke-width="1.1"/>
<line x1="323.53" y1="236.7" x2="323.53" y2="247.5"/>
<line x1="321.5" y1="240.4" x2="325.5" y2="240.4"/>
<line x1="328.40" y1="219.2" x2="328.40" y2="237.5"/>
<rect x="326.40" y="225.8" width="4.00" height="5.8" stroke="none"/>
<line x1="333.26" y1="222.5" x2="333.26" y2="230.0"/>
<rect x="331.81" y="223.6" width="2.90" height="1.8" fill="#fff" stroke-width="1.1"/>
<line x1="338.13" y1="221.7" x2="338.13" y2="240.8"/>
<rect x="336.13" y="222.0" width="4.00" height="17.2" stroke="none"/>
<line x1="343.00" y1="232.5" x2="343.00" y2="250.0"/>
<rect x="341.00" y="233.3" width="4.00" height="12.5" stroke="none"/>
<line x1="347.87" y1="216.3" x2="347.87" y2="260.8"/>
<rect x="346.42" y="232.2" width="2.90" height="20.6" fill="#fff" stroke-width="1.1"/>
<line x1="352.74" y1="183.3" x2="352.74" y2="217.5"/>
<rect x="351.29" y="193.1" width="2.90" height="23.9" fill="#fff" stroke-width="1.1"/>
<line x1="357.61" y1="189.2" x2="357.61" y2="207.5"/>
<rect x="355.61" y="189.2" width="4.00" height="18.3" stroke="none"/>
<line x1="362.48" y1="210.3" x2="362.48" y2="235.0"/>
<rect x="360.48" y="210.3" width="4.00" height="20.5" stroke="none"/>
<line x1="367.34" y1="158.3" x2="367.34" y2="200.3"/>
<rect x="365.89" y="169.7" width="2.90" height="30.1" fill="#fff" stroke-width="1.1"/>
<line x1="372.21" y1="163.3" x2="372.21" y2="179.7"/>
<rect x="370.76" y="168.1" width="2.90" height="6.1" fill="#fff" stroke-width="1.1"/>
<line x1="377.08" y1="126.3" x2="377.08" y2="157.5"/>
<rect x="375.63" y="131.9" width="2.90" height="25.1" fill="#fff" stroke-width="1.1"/>
<line x1="381.95" y1="106.3" x2="381.95" y2="145.8"/>
<rect x="380.50" y="120.9" width="2.90" height="9.9" fill="#fff" stroke-width="1.1"/>
<line x1="386.82" y1="107.5" x2="386.82" y2="132.5"/>
<rect x="385.37" y="110.5" width="2.90" height="7.2" fill="#fff" stroke-width="1.1"/>
<line x1="391.69" y1="96.3" x2="391.69" y2="123.3"/>
<rect x="389.69" y="105.0" width="4.00" height="18.3" stroke="none"/>
<line x1="396.56" y1="117.5" x2="396.56" y2="137.5"/>
<rect x="394.56" y="126.3" width="4.00" height="2.3" stroke="none"/>
<line x1="401.43" y1="126.3" x2="401.43" y2="150.8"/>
<rect x="399.43" y="126.3" width="4.00" height="17.3" stroke="none"/>
<line x1="406.29" y1="115.3" x2="406.29" y2="133.7"/>
<rect x="404.84" y="118.5" width="2.90" height="12.2" fill="#fff" stroke-width="1.1"/>
<line x1="411.16" y1="97.0" x2="411.16" y2="110.8"/>
<rect x="409.71" y="97.5" width="2.90" height="12.7" fill="#fff" stroke-width="1.1"/>
<line x1="416.03" y1="76.3" x2="416.03" y2="100.8"/>
<rect x="414.58" y="83.9" width="2.90" height="10.9" fill="#fff" stroke-width="1.1"/>
<line x1="420.90" y1="80.8" x2="420.90" y2="102.5"/>
<rect x="418.90" y="83.3" width="4.00" height="14.2" stroke="none"/>
<line x1="425.77" y1="97.0" x2="425.77" y2="125.8"/>
<rect x="423.77" y="97.0" width="4.00" height="23.8" stroke="none"/>
<line x1="430.64" y1="105.0" x2="430.64" y2="117.5"/>
<rect x="429.19" y="105.9" width="2.90" height="8.9" fill="#fff" stroke-width="1.1"/>
<line x1="435.51" y1="95.8" x2="435.51" y2="118.3"/>
<rect x="433.51" y="100.0" width="4.00" height="16.7" stroke="none"/>
<line x1="440.37" y1="112.5" x2="440.37" y2="125.3"/>
<rect x="438.37" y="115.0" width="4.00" height="10.3" stroke="none"/>
<line x1="445.24" y1="129.2" x2="445.24" y2="153.7"/>
<rect x="443.24" y="129.2" width="4.00" height="22.5" stroke="none"/>
<line x1="450.11" y1="133.0" x2="450.11" y2="147.5"/>
<line x1="448.1" y1="133.4" x2="452.1" y2="133.4"/>
<line x1="454.98" y1="65.0" x2="454.98" y2="132.5"/>
<rect x="453.53" y="73.0" width="2.90" height="48.1" fill="#fff" stroke-width="1.1"/>
<line x1="459.85" y1="69.2" x2="459.85" y2="96.7"/>
<rect x="457.85" y="69.2" width="4.00" height="5.4" stroke="none"/>
<line x1="464.72" y1="56.2" x2="464.72" y2="74.6"/>
<rect x="463.27" y="65.1" width="2.90" height="8.9" fill="#fff" stroke-width="1.1"/>
<line x1="469.59" y1="57.1" x2="469.59" y2="76.7"/>
<rect x="467.59" y="57.1" width="4.00" height="15.4" stroke="none"/>
<line x1="474.45" y1="69.2" x2="474.45" y2="81.7"/>
<rect x="472.45" y="69.2" width="4.00" height="9.2" stroke="none"/>
<line x1="479.32" y1="51.2" x2="479.32" y2="77.5"/>
<rect x="477.87" y="59.9" width="2.90" height="17.1" fill="#fff" stroke-width="1.1"/>
<line x1="484.19" y1="47.1" x2="484.19" y2="61.2"/>
<rect x="482.19" y="59.2" width="4.00" height="2.1" stroke="none"/>
<line x1="489.06" y1="63.3" x2="489.06" y2="79.6"/>
<rect x="487.61" y="71.0" width="2.90" height="3.9" fill="#fff" stroke-width="1.1"/>
<line x1="493.93" y1="50.2" x2="493.93" y2="74.6"/>
<rect x="491.93" y="60.4" width="4.00" height="9.2" stroke="none"/>
<line x1="498.80" y1="58.3" x2="498.80" y2="69.6"/>
<rect x="496.80" y="60.8" width="4.00" height="3.8" stroke="none"/>
<line x1="503.67" y1="55.0" x2="503.67" y2="64.6"/>
<rect x="501.67" y="57.1" width="4.00" height="7.5" stroke="none"/>
<line x1="508.53" y1="61.2" x2="508.53" y2="71.7"/>
<rect x="506.53" y="65.4" width="4.00" height="2.1" stroke="none"/>
<line x1="513.40" y1="67.1" x2="513.40" y2="79.2"/>
<rect x="511.40" y="67.1" width="4.00" height="12.1" stroke="none"/>
<line x1="518.27" y1="70.4" x2="518.27" y2="87.9"/>
<rect x="516.82" y="71.0" width="2.90" height="6.8" fill="#fff" stroke-width="1.1"/>
<line x1="523.14" y1="63.3" x2="523.14" y2="81.7"/>
<rect x="521.14" y="69.2" width="4.00" height="11.7" stroke="none"/>
<line x1="528.01" y1="58.3" x2="528.01" y2="73.8"/>
<rect x="526.56" y="61.0" width="2.90" height="5.6" fill="#fff" stroke-width="1.1"/>
<line x1="532.88" y1="144.2" x2="532.88" y2="311.7"/>
<rect x="530.88" y="150.8" width="4.00" height="66.7" stroke="none"/>
<line x1="537.75" y1="134.2" x2="537.75" y2="185.8"/>
<rect x="535.75" y="159.5" width="4.00" height="3.0" stroke="none"/>
<line x1="542.61" y1="177.5" x2="542.61" y2="210.8"/>
<rect x="540.61" y="192.5" width="4.00" height="18.3" stroke="none"/>
<line x1="547.48" y1="215.3" x2="547.48" y2="256.7"/>
<rect x="545.48" y="215.3" width="4.00" height="41.3" stroke="none"/>
<line x1="552.35" y1="242.5" x2="552.35" y2="268.7"/>
<rect x="550.90" y="256.9" width="2.90" height="1.8" fill="#fff" stroke-width="1.1"/>
<line x1="557.22" y1="218.3" x2="557.22" y2="265.3"/>
<rect x="555.77" y="225.9" width="2.90" height="32.7" fill="#fff" stroke-width="1.1"/>
<line x1="562.09" y1="200.0" x2="562.09" y2="230.3"/>
<rect x="560.64" y="208.1" width="2.90" height="9.7" fill="#fff" stroke-width="1.1"/>
<line x1="566.96" y1="157.5" x2="566.96" y2="199.7"/>
<rect x="565.51" y="159.7" width="2.90" height="38.1" fill="#fff" stroke-width="1.1"/>
<line x1="571.83" y1="144.2" x2="571.83" y2="171.7"/>
<rect x="569.83" y="148.0" width="4.00" height="16.7" stroke="none"/>
<line x1="576.69" y1="155.0" x2="576.69" y2="181.7"/>
<rect x="575.24" y="163.1" width="2.90" height="8.9" fill="#fff" stroke-width="1.1"/>
<line x1="581.56" y1="163.3" x2="581.56" y2="192.5"/>
<rect x="579.56" y="172.5" width="4.00" height="20.0" stroke="none"/>
<line x1="586.43" y1="195.0" x2="586.43" y2="227.5"/>
<rect x="584.43" y="195.0" width="4.00" height="32.5" stroke="none"/>
<line x1="591.30" y1="223.3" x2="591.30" y2="239.2"/>
<line x1="589.3" y1="223.8" x2="593.3" y2="223.8"/>
<line x1="596.17" y1="214.2" x2="596.17" y2="244.7"/>
<rect x="594.17" y="223.3" width="4.00" height="2.5" stroke="none"/>
<line x1="601.04" y1="225.0" x2="601.04" y2="240.8"/>
<rect x="599.04" y="230.3" width="4.00" height="5.0" stroke="none"/>
<line x1="605.91" y1="230.8" x2="605.91" y2="242.5"/>
<rect x="603.91" y="231.3" width="4.00" height="5.3" stroke="none"/>
<line x1="610.77" y1="221.3" x2="610.77" y2="241.7"/>
<rect x="609.32" y="228.1" width="2.90" height="12.2" fill="#fff" stroke-width="1.1"/>
<line x1="615.64" y1="196.3" x2="615.64" y2="220.0"/>
<rect x="614.19" y="201.4" width="2.90" height="16.7" fill="#fff" stroke-width="1.1"/>
<line x1="620.51" y1="203.3" x2="620.51" y2="230.8"/>
<rect x="618.51" y="207.5" width="4.00" height="22.8" stroke="none"/>
<line x1="625.38" y1="219.2" x2="625.38" y2="236.7"/>
<rect x="623.38" y="223.3" width="4.00" height="10.0" stroke="none"/>
<line x1="630.25" y1="232.5" x2="630.25" y2="253.3"/>
<rect x="628.25" y="236.3" width="4.00" height="17.0" stroke="none"/>
<line x1="635.12" y1="200.0" x2="635.12" y2="242.5"/>
<rect x="633.67" y="220.6" width="2.90" height="20.6" fill="#fff" stroke-width="1.1"/>
<line x1="639.99" y1="182.0" x2="639.99" y2="214.7"/>
<rect x="638.54" y="190.9" width="2.90" height="22.2" fill="#fff" stroke-width="1.1"/>
<line x1="644.86" y1="196.7" x2="644.86" y2="230.8"/>
<rect x="642.86" y="199.2" width="4.00" height="24.5" stroke="none"/>
<line x1="649.72" y1="229.2" x2="649.72" y2="250.8"/>
<rect x="647.72" y="246.3" width="4.00" height="4.0" stroke="none"/>
<line x1="654.59" y1="236.3" x2="654.59" y2="254.2"/>
<line x1="652.6" y1="241.7" x2="656.6" y2="241.7"/>
<line x1="659.46" y1="244.2" x2="659.46" y2="258.0"/>
<rect x="658.01" y="248.9" width="2.90" height="6.4" fill="#fff" stroke-width="1.1"/>
<line x1="664.33" y1="218.3" x2="664.33" y2="238.3"/>
<rect x="662.88" y="223.1" width="2.90" height="14.7" fill="#fff" stroke-width="1.1"/>
<line x1="669.20" y1="223.0" x2="669.20" y2="243.3"/>
<rect x="667.75" y="224.2" width="2.90" height="2.7" fill="#fff" stroke-width="1.1"/>
<line x1="674.07" y1="216.3" x2="674.07" y2="245.3"/>
<rect x="672.07" y="222.5" width="4.00" height="22.8" stroke="none"/>
<line x1="678.94" y1="256.3" x2="678.94" y2="278.7"/>
<rect x="677.49" y="257.2" width="2.90" height="8.6" fill="#fff" stroke-width="1.1"/>
<line x1="683.80" y1="259.2" x2="683.80" y2="274.7"/>
<rect x="681.80" y="261.3" width="4.00" height="12.8" stroke="none"/>
<line x1="688.67" y1="277.5" x2="688.67" y2="293.7"/>
<rect x="686.67" y="282.5" width="4.00" height="7.2" stroke="none"/>
<line x1="693.54" y1="287.5" x2="693.54" y2="314.7"/>
<rect x="691.54" y="291.3" width="4.00" height="16.2" stroke="none"/>
<line x1="698.41" y1="303.3" x2="698.41" y2="324.7"/>
<rect x="696.41" y="306.3" width="4.00" height="14.5" stroke="none"/>
<line x1="703.28" y1="293.7" x2="703.28" y2="324.7"/>
<rect x="701.83" y="298.1" width="2.90" height="25.6" fill="#fff" stroke-width="1.1"/>
<line x1="708.15" y1="311.7" x2="708.15" y2="339.7"/>
<rect x="706.15" y="315.8" width="4.00" height="6.7" stroke="none"/>
<line x1="713.02" y1="297.5" x2="713.02" y2="318.7"/>
<line x1="711.0" y1="310.4" x2="715.0" y2="310.4"/>
<line x1="717.88" y1="307.5" x2="717.88" y2="336.7"/>
<rect x="715.88" y="310.0" width="4.00" height="20.3" stroke="none"/>
<line x1="722.75" y1="306.3" x2="722.75" y2="336.7"/>
<rect x="721.30" y="311.4" width="2.90" height="15.1" fill="#fff" stroke-width="1.1"/>
<line x1="727.62" y1="308.3" x2="727.62" y2="337.5"/>
<rect x="725.62" y="324.2" width="4.00" height="13.3" stroke="none"/>
<line x1="732.49" y1="305.3" x2="732.49" y2="332.5"/>
<rect x="731.04" y="315.2" width="2.90" height="16.7" fill="#fff" stroke-width="1.1"/>
<line x1="737.36" y1="320.0" x2="737.36" y2="329.2"/>
<rect x="735.91" y="321.4" width="2.90" height="1.8" fill="#fff" stroke-width="1.1"/>
<line x1="742.23" y1="307.5" x2="742.23" y2="339.7"/>
<rect x="740.78" y="321.4" width="2.90" height="15.6" fill="#fff" stroke-width="1.1"/>
<line x1="747.10" y1="310.0" x2="747.10" y2="326.7"/>
<rect x="745.65" y="315.6" width="2.90" height="4.2" fill="#fff" stroke-width="1.1"/>
<line x1="751.96" y1="302.5" x2="751.96" y2="313.7"/>
<rect x="749.96" y="304.7" width="4.00" height="3.3" stroke="none"/>
<line x1="756.83" y1="287.5" x2="756.83" y2="301.3"/>
<rect x="755.38" y="290.2" width="2.90" height="10.6" fill="#fff" stroke-width="1.1"/>
<line x1="761.70" y1="266.3" x2="761.70" y2="295.3"/>
<rect x="760.25" y="267.2" width="2.90" height="21.4" fill="#fff" stroke-width="1.1"/>
<line x1="766.57" y1="233.3" x2="766.57" y2="268.3"/>
<rect x="765.12" y="234.2" width="2.90" height="31.6" fill="#fff" stroke-width="1.1"/>
<line x1="771.44" y1="235.0" x2="771.44" y2="244.7"/>
<rect x="769.99" y="237.6" width="2.90" height="3.6" fill="#fff" stroke-width="1.1"/>
<line x1="776.31" y1="216.3" x2="776.31" y2="235.8"/>
<rect x="774.86" y="224.2" width="2.90" height="10.2" fill="#fff" stroke-width="1.1"/>
<line x1="781.18" y1="229.2" x2="781.18" y2="247.0"/>
<rect x="779.18" y="230.3" width="4.00" height="11.7" stroke="none"/>
<line x1="786.04" y1="230.8" x2="786.04" y2="301.7"/>
<rect x="784.59" y="241.4" width="2.90" height="1.8" fill="#fff" stroke-width="1.1"/>
<line x1="790.91" y1="224.2" x2="790.91" y2="235.0"/>
<rect x="789.46" y="228.1" width="2.90" height="1.8" fill="#fff" stroke-width="1.1"/>
<line x1="795.78" y1="213.3" x2="795.78" y2="235.0"/>
<rect x="793.78" y="213.7" width="4.00" height="16.7" stroke="none"/>
<line x1="800.65" y1="231.7" x2="800.65" y2="244.2"/>
<rect x="798.65" y="241.3" width="4.00" height="2.3" stroke="none"/>
<line x1="805.52" y1="229.2" x2="805.52" y2="244.7"/>
<rect x="803.52" y="238.3" width="4.00" height="5.3" stroke="none"/>
<line x1="810.39" y1="242.0" x2="810.39" y2="286.7"/>
<rect x="808.39" y="250.8" width="4.00" height="35.8" stroke="none"/>
<line x1="815.26" y1="279.7" x2="815.26" y2="313.7"/>
<rect x="813.26" y="279.7" width="4.00" height="20.0" stroke="none"/>
<line x1="820.12" y1="305.0" x2="820.12" y2="326.7"/>
<line x1="818.1" y1="307.8" x2="822.1" y2="307.8"/>
<line x1="824.99" y1="315.0" x2="824.99" y2="336.7"/>
<rect x="822.99" y="315.8" width="4.00" height="20.0" stroke="none"/>
<line x1="829.86" y1="307.5" x2="829.86" y2="335.8"/>
<rect x="828.41" y="308.6" width="2.90" height="21.2" fill="#fff" stroke-width="1.1"/>
<line x1="834.73" y1="305.3" x2="834.73" y2="336.7"/>
<rect x="833.28" y="310.6" width="2.90" height="1.8" fill="#fff" stroke-width="1.1"/>
<line x1="839.60" y1="313.3" x2="839.60" y2="334.2"/>
<rect x="837.60" y="320.8" width="4.00" height="6.7" stroke="none"/>
<line x1="844.47" y1="316.7" x2="844.47" y2="336.7"/>
<rect x="842.47" y="330.8" width="4.00" height="3.8" stroke="none"/>
<line x1="849.34" y1="313.3" x2="849.34" y2="328.3"/>
<rect x="847.34" y="315.0" width="4.00" height="4.2" stroke="none"/>
<line x1="854.21" y1="307.5" x2="854.21" y2="331.7"/>
<rect x="852.75" y="308.6" width="2.90" height="8.4" fill="#fff" stroke-width="1.1"/>
<line x1="859.07" y1="292.5" x2="859.07" y2="309.7"/>
<rect x="857.62" y="293.6" width="2.90" height="15.1" fill="#fff" stroke-width="1.1"/>
<line x1="863.94" y1="273.0" x2="863.94" y2="291.7"/>
<rect x="862.49" y="280.6" width="2.90" height="10.2" fill="#fff" stroke-width="1.1"/>
<line x1="868.81" y1="264.2" x2="868.81" y2="293.7"/>
<line x1="866.8" y1="269.6" x2="870.8" y2="269.6"/>
<line x1="873.68" y1="260.0" x2="873.68" y2="271.7"/>
<rect x="871.68" y="261.3" width="4.00" height="8.3" stroke="none"/>
<line x1="878.55" y1="276.7" x2="878.55" y2="295.3"/>
<rect x="876.55" y="282.5" width="4.00" height="8.8" stroke="none"/>
<line x1="883.42" y1="283.3" x2="883.42" y2="298.7"/>
<line x1="881.4" y1="292.2" x2="885.4" y2="292.2"/>
<line x1="888.29" y1="270.3" x2="888.29" y2="280.8"/>
<rect x="886.29" y="276.7" width="4.00" height="3.3" stroke="none"/>
<line x1="893.15" y1="260.3" x2="893.15" y2="286.3"/>
<line x1="891.2" y1="273.4" x2="895.2" y2="273.4"/>
<line x1="898.02" y1="274.2" x2="898.02" y2="285.3"/>
<rect x="896.02" y="276.7" width="4.00" height="8.0" stroke="none"/>
<line x1="902.89" y1="264.2" x2="902.89" y2="275.3"/>
<rect x="901.44" y="269.2" width="2.90" height="1.8" fill="#fff" stroke-width="1.1"/>
<line x1="907.76" y1="265.0" x2="907.76" y2="276.7"/>
<rect x="906.31" y="269.2" width="2.90" height="1.8" fill="#fff" stroke-width="1.1"/>
<line x1="912.63" y1="274.2" x2="912.63" y2="290.8"/>
<line x1="910.6" y1="276.2" x2="914.6" y2="276.2"/>
<line x1="917.50" y1="274.2" x2="917.50" y2="295.8"/>
<rect x="915.50" y="274.7" width="4.00" height="17.0" stroke="none"/>
<line x1="922.37" y1="281.7" x2="922.37" y2="305.0"/>
<rect x="920.37" y="291.7" width="4.00" height="5.0" stroke="none"/>
<line x1="927.23" y1="291.3" x2="927.23" y2="304.2"/>
<rect x="925.23" y="291.7" width="4.00" height="10.8" stroke="none"/>
<line x1="932.10" y1="303.3" x2="932.10" y2="330.8"/>
<rect x="930.65" y="308.1" width="2.90" height="21.7" fill="#fff" stroke-width="1.1"/>
<line x1="936.97" y1="313.3" x2="936.97" y2="334.2"/>
<rect x="934.97" y="315.3" width="4.00" height="5.0" stroke="none"/>
<line x1="941.84" y1="298.3" x2="941.84" y2="319.2"/>
<rect x="940.39" y="308.1" width="2.90" height="6.7" fill="#fff" stroke-width="1.1"/>
<line x1="946.71" y1="303.3" x2="946.71" y2="318.3"/>
<rect x="945.26" y="306.9" width="2.90" height="8.4" fill="#fff" stroke-width="1.1"/>
<line x1="951.58" y1="287.5" x2="951.58" y2="308.7"/>
<rect x="950.13" y="288.6" width="2.90" height="18.4" fill="#fff" stroke-width="1.1"/>
<line x1="956.45" y1="267.5" x2="956.45" y2="292.5"/>
<rect x="954.45" y="285.0" width="4.00" height="6.7" stroke="none"/>
<line x1="961.31" y1="274.2" x2="961.31" y2="289.2"/>
<rect x="959.31" y="276.7" width="4.00" height="8.0" stroke="none"/>
<line x1="966.18" y1="283.3" x2="966.18" y2="305.0"/>
<rect x="964.18" y="287.5" width="4.00" height="16.7" stroke="none"/>
<line x1="971.05" y1="282.5" x2="971.05" y2="306.7"/>
<rect x="969.60" y="285.2" width="2.90" height="13.4" fill="#fff" stroke-width="1.1"/>
<line x1="975.92" y1="260.3" x2="975.92" y2="280.8"/>
<rect x="974.47" y="263.9" width="2.90" height="13.9" fill="#fff" stroke-width="1.1"/>
<line x1="980.79" y1="260.3" x2="980.79" y2="285.0"/>
<rect x="978.79" y="261.3" width="4.00" height="23.3" stroke="none"/>
<line x1="985.66" y1="265.0" x2="985.66" y2="299.2"/>
<rect x="984.21" y="270.2" width="2.90" height="2.6" fill="#fff" stroke-width="1.1"/>
<line x1="990.53" y1="254.2" x2="990.53" y2="273.7"/>
<rect x="988.53" y="264.7" width="4.00" height="2.0" stroke="none"/>
<line x1="995.39" y1="245.0" x2="995.39" y2="278.0"/>
<rect x="993.39" y="258.3" width="4.00" height="16.3" stroke="none"/>
<line x1="1000.26" y1="259.2" x2="1000.26" y2="278.7"/>
<rect x="998.81" y="269.2" width="2.90" height="4.9" fill="#fff" stroke-width="1.1"/>
<line x1="1005.13" y1="237.0" x2="1005.13" y2="258.7"/>
<rect x="1003.68" y="249.2" width="2.90" height="1.8" fill="#fff" stroke-width="1.1"/>
<line x1="1010.00" y1="249.2" x2="1010.00" y2="269.7"/>
<rect x="1008.00" y="250.0" width="4.00" height="19.2" stroke="none"/>
<line x1="1014.87" y1="269.2" x2="1014.87" y2="288.0"/>
<rect x="1013.42" y="275.2" width="2.90" height="11.7" fill="#fff" stroke-width="1.1"/>
<line x1="1019.74" y1="257.5" x2="1019.74" y2="290.8"/>
<rect x="1018.29" y="258.9" width="2.90" height="25.2" fill="#fff" stroke-width="1.1"/>
<line x1="1024.61" y1="240.0" x2="1024.61" y2="262.5"/>
<rect x="1023.16" y="249.2" width="2.90" height="3.2" fill="#fff" stroke-width="1.1"/>
<line x1="1029.47" y1="244.2" x2="1029.47" y2="258.0"/>
<rect x="1027.47" y="251.3" width="4.00" height="4.5" stroke="none"/>
<line x1="1034.34" y1="254.2" x2="1034.34" y2="276.7"/>
<rect x="1032.34" y="259.7" width="4.00" height="1.7" stroke="none"/>
<line x1="1039.21" y1="228.0" x2="1039.21" y2="252.5"/>
<rect x="1037.21" y="245.8" width="4.00" height="2.5" stroke="none"/>
<line x1="1044.08" y1="260.0" x2="1044.08" y2="294.2"/>
<rect x="1042.08" y="263.3" width="4.00" height="23.3" stroke="none"/>
<line x1="1048.95" y1="294.7" x2="1048.95" y2="308.7"/>
<rect x="1046.95" y="295.0" width="4.00" height="4.2" stroke="none"/>
<line x1="1053.82" y1="264.2" x2="1053.82" y2="294.2"/>
<rect x="1052.37" y="265.2" width="2.90" height="26.2" fill="#fff" stroke-width="1.1"/>
<line x1="1058.69" y1="257.5" x2="1058.69" y2="292.0"/>
<rect x="1056.69" y="259.2" width="4.00" height="32.5" stroke="none"/>
<line x1="1063.55" y1="281.7" x2="1063.55" y2="313.0"/>
<rect x="1062.10" y="293.1" width="2.90" height="18.9" fill="#fff" stroke-width="1.1"/>
<line x1="1068.42" y1="301.7" x2="1068.42" y2="340.8"/>
<rect x="1066.42" y="309.2" width="4.00" height="31.7" stroke="none"/>
<line x1="1073.29" y1="320.3" x2="1073.29" y2="345.0"/>
<rect x="1071.84" y="321.4" width="2.90" height="12.7" fill="#fff" stroke-width="1.1"/>
<line x1="1078.16" y1="326.7" x2="1078.16" y2="347.5"/>
<rect x="1076.16" y="330.3" width="4.00" height="15.5" stroke="none"/>
<line x1="1083.03" y1="334.2" x2="1083.03" y2="355.0"/>
<rect x="1081.03" y="334.7" width="4.00" height="13.7" stroke="none"/>
<line x1="1087.90" y1="332.5" x2="1087.90" y2="351.7"/>
<rect x="1085.90" y="333.0" width="4.00" height="14.5" stroke="none"/>
<line x1="1092.77" y1="343.0" x2="1092.77" y2="357.0"/>
<rect x="1090.77" y="343.7" width="4.00" height="8.8" stroke="none"/>
<line x1="1097.63" y1="348.3" x2="1097.63" y2="366.7"/>
<line x1="1095.6" y1="348.8" x2="1099.6" y2="348.8"/>
<line x1="1102.50" y1="315.3" x2="1102.50" y2="334.7"/>
<rect x="1100.50" y="324.2" width="4.00" height="1.7" stroke="none"/>
<line x1="1107.37" y1="313.7" x2="1107.37" y2="333.7"/>
<rect x="1105.37" y="328.0" width="4.00" height="2.0" stroke="none"/>
<line x1="1112.24" y1="310.3" x2="1112.24" y2="348.0"/>
<rect x="1110.24" y="310.8" width="4.00" height="32.5" stroke="none"/>
<line x1="1117.11" y1="341.7" x2="1117.11" y2="356.7"/>
<rect x="1115.11" y="343.3" width="4.00" height="9.2" stroke="none"/>
<line x1="1121.98" y1="342.5" x2="1121.98" y2="359.7"/>
<rect x="1119.98" y="343.3" width="4.00" height="10.3" stroke="none"/>
<line x1="1126.85" y1="353.3" x2="1126.85" y2="375.0"/>
<rect x="1125.40" y="354.2" width="2.90" height="13.6" fill="#fff" stroke-width="1.1"/>
<line x1="1131.72" y1="345.8" x2="1131.72" y2="370.0"/>
<rect x="1129.72" y="345.8" width="4.00" height="20.8" stroke="none"/>
<line x1="1136.58" y1="373.3" x2="1136.58" y2="390.8"/>
<rect x="1135.13" y="374.2" width="2.90" height="5.6" fill="#fff" stroke-width="1.1"/>
<line x1="1141.45" y1="311.3" x2="1141.45" y2="364.7"/>
<rect x="1140.00" y="330.2" width="2.90" height="26.7" fill="#fff" stroke-width="1.1"/>
<line x1="1146.32" y1="547.5" x2="1146.32" y2="635.8"/>
<rect x="1144.87" y="578.5" width="2.90" height="8.9" fill="#fff" stroke-width="1.1"/>
<line x1="1151.19" y1="600.8" x2="1151.19" y2="636.3"/>
<rect x="1149.19" y="600.8" width="4.00" height="17.5" stroke="none"/>
<line x1="1156.06" y1="605.0" x2="1156.06" y2="648.3"/>
<rect x="1154.61" y="611.9" width="2.90" height="24.6" fill="#fff" stroke-width="1.1"/>
<line x1="1160.93" y1="608.7" x2="1160.93" y2="631.3"/>
<rect x="1158.93" y="613.3" width="4.00" height="16.3" stroke="none"/>
<line x1="1165.80" y1="617.0" x2="1165.80" y2="648.3"/>
<rect x="1163.80" y="617.5" width="4.00" height="29.2" stroke="none"/>
<line x1="1170.66" y1="642.0" x2="1170.66" y2="663.3"/>
<rect x="1169.21" y="643.0" width="2.90" height="5.6" fill="#fff" stroke-width="1.1"/>
<line x1="1175.53" y1="644.7" x2="1175.53" y2="659.7"/>
<rect x="1174.08" y="645.9" width="2.90" height="7.7" fill="#fff" stroke-width="1.1"/>
<line x1="1180.40" y1="630.8" x2="1180.40" y2="651.7"/>
<rect x="1178.95" y="641.9" width="2.90" height="1.8" fill="#fff" stroke-width="1.1"/>
<line x1="1185.27" y1="642.0" x2="1185.27" y2="663.3"/>
<rect x="1183.82" y="643.0" width="2.90" height="5.6" fill="#fff" stroke-width="1.1"/>
<line x1="1190.14" y1="645.3" x2="1190.14" y2="679.2"/>
<rect x="1188.14" y="651.7" width="4.00" height="26.7" stroke="none"/>
<line x1="1195.01" y1="678.3" x2="1195.01" y2="728.7"/>
<rect x="1193.56" y="685.5" width="2.90" height="1.8" fill="#fff" stroke-width="1.1"/>
<line x1="1199.88" y1="674.2" x2="1199.88" y2="699.2"/>
<rect x="1198.43" y="683.5" width="2.90" height="4.2" fill="#fff" stroke-width="1.1"/>
<line x1="1204.74" y1="678.0" x2="1204.74" y2="696.3"/>
<rect x="1202.74" y="679.7" width="4.00" height="15.7" stroke="none"/>
<line x1="1209.61" y1="692.5" x2="1209.61" y2="709.7"/>
<rect x="1207.61" y="693.0" width="4.00" height="13.3" stroke="none"/>
<line x1="1214.48" y1="688.0" x2="1214.48" y2="706.7"/>
<rect x="1213.03" y="698.9" width="2.90" height="6.9" fill="#fff" stroke-width="1.1"/>
<line x1="1219.35" y1="679.2" x2="1219.35" y2="699.2"/>
<rect x="1217.90" y="688.5" width="2.90" height="8.4" fill="#fff" stroke-width="1.1"/>
<line x1="1224.22" y1="673.3" x2="1224.22" y2="688.7"/>
<rect x="1222.22" y="683.0" width="4.00" height="5.0" stroke="none"/>
<line x1="1229.09" y1="665.0" x2="1229.09" y2="684.2"/>
<rect x="1227.64" y="673.5" width="2.90" height="4.2" fill="#fff" stroke-width="1.1"/>
<line x1="1233.96" y1="672.5" x2="1233.96" y2="689.2"/>
<rect x="1231.96" y="675.0" width="4.00" height="2.5" stroke="none"/>
<line x1="1238.82" y1="673.3" x2="1238.82" y2="688.3"/>
<rect x="1236.82" y="680.3" width="4.00" height="2.7" stroke="none"/>
<line x1="1243.69" y1="653.0" x2="1243.69" y2="682.5"/>
<rect x="1242.24" y="654.2" width="2.90" height="22.2" fill="#fff" stroke-width="1.1"/>
<line x1="1248.56" y1="638.7" x2="1248.56" y2="664.2"/>
<rect x="1247.11" y="639.7" width="2.90" height="11.7" fill="#fff" stroke-width="1.1"/>
<line x1="1253.43" y1="630.3" x2="1253.43" y2="639.2"/>
<line x1="1251.4" y1="636.3" x2="1255.4" y2="636.3"/>
<line x1="1258.30" y1="625.3" x2="1258.30" y2="644.7"/>
<rect x="1256.30" y="634.2" width="4.00" height="8.3" stroke="none"/>
<line x1="1263.17" y1="627.0" x2="1263.17" y2="641.7"/>
<rect x="1261.72" y="632.2" width="2.90" height="8.6" fill="#fff" stroke-width="1.1"/>
<line x1="1268.04" y1="621.3" x2="1268.04" y2="635.8"/>
<rect x="1266.59" y="622.5" width="2.90" height="8.6" fill="#fff" stroke-width="1.1"/>
<line x1="1272.90" y1="609.7" x2="1272.90" y2="636.3"/>
<rect x="1270.90" y="620.8" width="4.00" height="15.0" stroke="none"/>
<line x1="1277.77" y1="625.0" x2="1277.77" y2="649.2"/>
<line x1="1275.8" y1="636.8" x2="1279.8" y2="636.8"/>
<line x1="1282.64" y1="640.8" x2="1282.64" y2="658.3"/>
<rect x="1280.64" y="641.7" width="4.00" height="15.8" stroke="none"/>
<line x1="1287.51" y1="638.3" x2="1287.51" y2="659.7"/>
<rect x="1286.06" y="645.5" width="2.90" height="8.9" fill="#fff" stroke-width="1.1"/>
<line x1="1292.38" y1="637.5" x2="1292.38" y2="655.8"/>
<line x1="1290.4" y1="649.6" x2="1294.4" y2="649.6"/>
<line x1="1297.25" y1="644.7" x2="1297.25" y2="654.2"/>
<line x1="1295.2" y1="649.6" x2="1299.2" y2="649.6"/>
<line x1="1302.12" y1="608.7" x2="1302.12" y2="646.7"/>
<rect x="1300.67" y="619.7" width="2.90" height="26.1" fill="#fff" stroke-width="1.1"/>
<line x1="1306.98" y1="605.3" x2="1306.98" y2="615.0"/>
<rect x="1305.53" y="611.4" width="2.90" height="1.8" fill="#fff" stroke-width="1.1"/>
<line x1="1311.85" y1="603.3" x2="1311.85" y2="617.5"/>
<rect x="1309.85" y="604.2" width="4.00" height="8.8" stroke="none"/>
<line x1="1316.72" y1="576.7" x2="1316.72" y2="604.2"/>
<rect x="1315.27" y="579.7" width="2.90" height="23.4" fill="#fff" stroke-width="1.1"/>
<line x1="1321.59" y1="565.8" x2="1321.59" y2="602.5"/>
<rect x="1319.59" y="575.8" width="4.00" height="20.0" stroke="none"/>
<line x1="1326.46" y1="572.0" x2="1326.46" y2="590.0"/>
<rect x="1325.01" y="576.9" width="2.90" height="7.6" fill="#fff" stroke-width="1.1"/>
<line x1="1331.33" y1="575.0" x2="1331.33" y2="603.3"/>
<rect x="1329.33" y="575.3" width="4.00" height="27.7" stroke="none"/>
<line x1="1336.20" y1="568.7" x2="1336.20" y2="602.5"/>
<rect x="1334.75" y="573.9" width="2.90" height="19.2" fill="#fff" stroke-width="1.1"/>
<line x1="1341.07" y1="568.7" x2="1341.07" y2="593.3"/>
<rect x="1339.62" y="571.4" width="2.90" height="2.7" fill="#fff" stroke-width="1.1"/>
<line x1="1345.93" y1="562.5" x2="1345.93" y2="584.2"/>
<rect x="1343.93" y="570.0" width="4.00" height="2.5" stroke="none"/>
<line x1="1350.80" y1="563.7" x2="1350.80" y2="582.0"/>
<line x1="1348.8" y1="572.9" x2="1352.8" y2="572.9"/>
<line x1="1355.67" y1="569.2" x2="1355.67" y2="590.3"/>
<rect x="1353.67" y="569.7" width="4.00" height="17.0" stroke="none"/>
<line x1="1360.54" y1="585.8" x2="1360.54" y2="603.3"/>
<rect x="1358.54" y="588.0" width="4.00" height="3.7" stroke="none"/>
<line x1="1365.41" y1="583.7" x2="1365.41" y2="612.5"/>
<rect x="1363.41" y="585.0" width="4.00" height="23.0" stroke="none"/>
<line x1="1370.28" y1="609.2" x2="1370.28" y2="626.7"/>
<rect x="1368.28" y="609.7" width="4.00" height="3.3" stroke="none"/>
<line x1="1375.15" y1="610.3" x2="1375.15" y2="625.0"/>
<line x1="1373.1" y1="616.2" x2="1377.1" y2="616.2"/>
<line x1="1380.01" y1="615.8" x2="1380.01" y2="634.2"/>
<rect x="1378.01" y="616.3" width="4.00" height="15.7" stroke="none"/>
<line x1="1384.88" y1="614.2" x2="1384.88" y2="638.7"/>
<rect x="1382.88" y="615.0" width="4.00" height="22.5" stroke="none"/>
<line x1="1389.75" y1="615.0" x2="1389.75" y2="636.3"/>
<rect x="1388.30" y="619.7" width="2.90" height="6.1" fill="#fff" stroke-width="1.1"/>
<line x1="1394.62" y1="599.2" x2="1394.62" y2="615.8"/>
<rect x="1392.62" y="602.5" width="4.00" height="2.2" stroke="none"/>
<line x1="1399.49" y1="559.2" x2="1399.49" y2="592.0"/>
<rect x="1398.04" y="567.5" width="2.90" height="23.2" fill="#fff" stroke-width="1.1"/>
<line x1="1404.36" y1="557.5" x2="1404.36" y2="575.8"/>
<rect x="1402.36" y="562.5" width="4.00" height="12.5" stroke="none"/>
<line x1="1409.23" y1="560.8" x2="1409.23" y2="577.5"/>
<rect x="1407.78" y="563.5" width="2.90" height="5.9" fill="#fff" stroke-width="1.1"/>
<line x1="1414.09" y1="561.3" x2="1414.09" y2="580.3"/>
<rect x="1412.09" y="563.0" width="4.00" height="1.7" stroke="none"/>
<line x1="1418.96" y1="529.7" x2="1418.96" y2="577.5"/>
<rect x="1417.51" y="555.5" width="2.90" height="2.2" fill="#fff" stroke-width="1.1"/>
<line x1="1423.83" y1="540.0" x2="1423.83" y2="556.7"/>
<rect x="1422.38" y="542.2" width="2.90" height="4.7" fill="#fff" stroke-width="1.1"/>
<line x1="1428.70" y1="534.2" x2="1428.70" y2="548.7"/>
<rect x="1426.70" y="535.0" width="4.00" height="4.7" stroke="none"/>
<line x1="1433.57" y1="514.7" x2="1433.57" y2="541.7"/>
<rect x="1432.12" y="524.7" width="2.90" height="5.1" fill="#fff" stroke-width="1.1"/>
<line x1="1438.44" y1="511.3" x2="1438.44" y2="533.0"/>
<line x1="1436.4" y1="517.9" x2="1440.4" y2="517.9"/>
<line x1="1443.31" y1="514.7" x2="1443.31" y2="521.3"/>
<rect x="1441.86" y="516.4" width="2.90" height="2.2" fill="#fff" stroke-width="1.1"/>
<line x1="1448.17" y1="507.5" x2="1448.17" y2="545.8"/>
<rect x="1446.17" y="511.3" width="4.00" height="34.0" stroke="none"/>
<line x1="1453.04" y1="523.3" x2="1453.04" y2="547.0"/>
<rect x="1451.04" y="523.7" width="4.00" height="21.7" stroke="none"/>
<line x1="1457.91" y1="535.3" x2="1457.91" y2="561.3"/>
<rect x="1455.91" y="538.7" width="4.00" height="19.7" stroke="none"/>
<line x1="1462.78" y1="549.7" x2="1462.78" y2="572.0"/>
<rect x="1461.33" y="555.2" width="2.90" height="2.2" fill="#fff" stroke-width="1.1"/>
<line x1="1467.65" y1="534.7" x2="1467.65" y2="554.2"/>
<rect x="1465.65" y="536.3" width="4.00" height="11.2" stroke="none"/>
<line x1="1472.52" y1="540.0" x2="1472.52" y2="554.2"/>
<rect x="1470.52" y="544.7" width="4.00" height="6.2" stroke="none"/>
<line x1="1477.39" y1="546.3" x2="1477.39" y2="558.3"/>
<rect x="1475.39" y="547.0" width="4.00" height="10.5" stroke="none"/>
<line x1="1482.25" y1="550.8" x2="1482.25" y2="573.3"/>
<rect x="1480.25" y="557.0" width="4.00" height="16.0" stroke="none"/>
<line x1="1487.12" y1="555.8" x2="1487.12" y2="574.2"/>
<rect x="1485.67" y="565.2" width="2.90" height="2.6" fill="#fff" stroke-width="1.1"/>
<line x1="1491.99" y1="571.3" x2="1491.99" y2="587.0"/>
<rect x="1489.99" y="572.5" width="4.00" height="12.5" stroke="none"/>
<line x1="1496.86" y1="582.5" x2="1496.86" y2="598.3"/>
<rect x="1494.86" y="583.0" width="4.00" height="10.7" stroke="none"/>
<line x1="1501.73" y1="589.2" x2="1501.73" y2="602.0"/>
<rect x="1499.73" y="598.3" width="4.00" height="2.5" stroke="none"/>
<line x1="1506.60" y1="598.3" x2="1506.60" y2="607.5"/>
<line x1="1504.6" y1="603.8" x2="1508.6" y2="603.8"/>
<line x1="1511.47" y1="596.7" x2="1511.47" y2="619.7"/>
<rect x="1509.47" y="609.2" width="4.00" height="10.0" stroke="none"/>
<line x1="1516.33" y1="617.0" x2="1516.33" y2="631.7"/>
<rect x="1514.33" y="622.5" width="4.00" height="3.3" stroke="none"/>
<line x1="1521.20" y1="626.7" x2="1521.20" y2="646.7"/>
<rect x="1519.20" y="628.3" width="4.00" height="16.7" stroke="none"/>
<line x1="1526.07" y1="634.2" x2="1526.07" y2="651.3"/>
<rect x="1524.62" y="637.2" width="2.90" height="12.6" fill="#fff" stroke-width="1.1"/>
<line x1="1530.94" y1="624.2" x2="1530.94" y2="647.5"/>
<rect x="1528.94" y="635.8" width="4.00" height="10.8" stroke="none"/>
<line x1="1535.81" y1="637.5" x2="1535.81" y2="649.7"/>
<rect x="1534.36" y="644.7" width="2.90" height="3.9" fill="#fff" stroke-width="1.1"/>
<line x1="1540.68" y1="624.7" x2="1540.68" y2="643.0"/>
<rect x="1539.23" y="629.7" width="2.90" height="3.9" fill="#fff" stroke-width="1.1"/>
<line x1="1545.55" y1="638.0" x2="1545.55" y2="658.3"/>
<rect x="1543.55" y="641.7" width="4.00" height="8.3" stroke="none"/>
<line x1="1550.41" y1="637.0" x2="1550.41" y2="649.2"/>
<rect x="1548.41" y="642.5" width="4.00" height="3.3" stroke="none"/>
<line x1="1555.28" y1="633.0" x2="1555.28" y2="646.7"/>
<rect x="1553.83" y="637.5" width="2.90" height="8.2" fill="#fff" stroke-width="1.1"/>
<line x1="1560.15" y1="630.8" x2="1560.15" y2="645.3"/>
<rect x="1558.15" y="633.7" width="4.00" height="3.0" stroke="none"/>
<line x1="1565.02" y1="622.5" x2="1565.02" y2="641.7"/>
<rect x="1563.57" y="626.4" width="2.90" height="14.4" fill="#fff" stroke-width="1.1"/>
<line x1="1569.89" y1="619.2" x2="1569.89" y2="630.8"/>
<rect x="1567.89" y="620.8" width="4.00" height="5.5" stroke="none"/>
<line x1="1574.76" y1="622.5" x2="1574.76" y2="635.3"/>
<line x1="1572.8" y1="631.2" x2="1576.8" y2="631.2"/>
<line x1="1579.63" y1="618.3" x2="1579.63" y2="633.3"/>
<rect x="1578.18" y="619.7" width="2.90" height="11.4" fill="#fff" stroke-width="1.1"/>
<line x1="1584.49" y1="614.7" x2="1584.49" y2="635.3"/>
<rect x="1582.49" y="621.3" width="4.00" height="13.3" stroke="none"/>
<line x1="1589.36" y1="621.7" x2="1589.36" y2="659.7"/>
<rect x="1587.36" y="627.0" width="4.00" height="32.2" stroke="none"/>
<line x1="1594.23" y1="640.8" x2="1594.23" y2="656.3"/>
<rect x="1592.78" y="641.9" width="2.90" height="13.4" fill="#fff" stroke-width="1.1"/>
<line x1="1599.10" y1="633.0" x2="1599.10" y2="648.7"/>
<rect x="1597.65" y="637.5" width="2.90" height="7.7" fill="#fff" stroke-width="1.1"/>
<line x1="1603.97" y1="631.7" x2="1603.97" y2="649.7"/>
<rect x="1601.97" y="632.0" width="4.00" height="13.0" stroke="none"/>
<line x1="1608.84" y1="625.0" x2="1608.84" y2="642.5"/>
<rect x="1607.39" y="637.2" width="2.90" height="2.2" fill="#fff" stroke-width="1.1"/>
<line x1="1613.71" y1="616.7" x2="1613.71" y2="645.3"/>
<line x1="1611.7" y1="642.2" x2="1615.7" y2="642.2"/>
<line x1="1618.58" y1="604.7" x2="1618.58" y2="639.7"/>
<rect x="1617.13" y="605.9" width="2.90" height="32.7" fill="#fff" stroke-width="1.1"/>
<line x1="1623.44" y1="593.7" x2="1623.44" y2="629.2"/>
<rect x="1621.44" y="598.0" width="4.00" height="30.7" stroke="none"/>
<line x1="1628.31" y1="597.0" x2="1628.31" y2="619.7"/>
<rect x="1626.31" y="610.8" width="4.00" height="8.3" stroke="none"/>
<line x1="1633.18" y1="611.3" x2="1633.18" y2="620.8"/>
<rect x="1631.18" y="613.0" width="4.00" height="6.7" stroke="none"/>
<line x1="1638.05" y1="594.7" x2="1638.05" y2="619.2"/>
<rect x="1636.60" y="604.7" width="2.90" height="13.4" fill="#fff" stroke-width="1.1"/>
<line x1="1642.92" y1="600.8" x2="1642.92" y2="633.3"/>
<rect x="1640.92" y="603.3" width="4.00" height="26.3" stroke="none"/>
<line x1="1647.79" y1="617.5" x2="1647.79" y2="633.0"/>
<rect x="1646.34" y="618.5" width="2.90" height="10.1" fill="#fff" stroke-width="1.1"/>
<line x1="1652.66" y1="620.8" x2="1652.66" y2="628.7"/>
<line x1="1650.7" y1="624.6" x2="1654.7" y2="624.6"/>
<line x1="1657.52" y1="624.7" x2="1657.52" y2="629.2"/>
<line x1="1655.5" y1="628.8" x2="1659.5" y2="628.8"/>
<line x1="1662.39" y1="632.5" x2="1662.39" y2="642.5"/>
<line x1="1660.4" y1="632.9" x2="1664.4" y2="632.9"/>
<line x1="1667.26" y1="626.7" x2="1667.26" y2="631.7"/>
<line x1="1665.3" y1="631.2" x2="1669.3" y2="631.2"/>
<line x1="1672.13" y1="611.7" x2="1672.13" y2="640.3"/>
<rect x="1670.68" y="623.0" width="2.90" height="8.9" fill="#fff" stroke-width="1.1"/>
<line x1="1677.00" y1="614.2" x2="1677.00" y2="636.7"/>
<rect x="1675.00" y="618.7" width="4.00" height="13.8" stroke="none"/>
<line x1="1681.87" y1="644.7" x2="1681.87" y2="658.3"/>
<rect x="1679.87" y="645.0" width="4.00" height="10.8" stroke="none"/>
<line x1="1686.74" y1="644.2" x2="1686.74" y2="659.7"/>
<rect x="1684.74" y="644.7" width="4.00" height="14.5" stroke="none"/>
<line x1="1691.60" y1="640.8" x2="1691.60" y2="658.0"/>
<rect x="1689.60" y="641.3" width="4.00" height="10.7" stroke="none"/>
<line x1="1696.47" y1="642.5" x2="1696.47" y2="651.3"/>
<rect x="1695.02" y="644.7" width="2.90" height="4.4" fill="#fff" stroke-width="1.1"/>
<line x1="1701.34" y1="643.7" x2="1701.34" y2="664.2"/>
<rect x="1699.34" y="644.2" width="4.00" height="18.8" stroke="none"/>
<line x1="1706.21" y1="660.0" x2="1706.21" y2="677.5"/>
<line x1="1704.2" y1="661.9" x2="1708.2" y2="661.9"/>
<line x1="1711.08" y1="641.7" x2="1711.08" y2="664.7"/>
<rect x="1709.63" y="646.9" width="2.90" height="16.7" fill="#fff" stroke-width="1.1"/>
<line x1="1715.95" y1="637.8" x2="1715.95" y2="650.4"/>
<line x1="1713.9" y1="649.9" x2="1717.9" y2="649.9"/>
<line x1="1720.82" y1="620.7" x2="1720.82" y2="646.4"/>
<rect x="1719.37" y="621.7" width="2.90" height="23.6" fill="#fff" stroke-width="1.1"/>
<line x1="1725.68" y1="608.9" x2="1725.68" y2="628.1"/>
<rect x="1724.23" y="619.8" width="2.90" height="1.8" fill="#fff" stroke-width="1.1"/>
<line x1="1730.55" y1="602.2" x2="1730.55" y2="627.4"/>
<rect x="1729.10" y="603.5" width="2.90" height="21.9" fill="#fff" stroke-width="1.1"/>
<line x1="1735.42" y1="567.4" x2="1735.42" y2="598.5"/>
<rect x="1733.97" y="576.4" width="2.90" height="21.1" fill="#fff" stroke-width="1.1"/>
<line x1="1740.29" y1="551.6" x2="1740.29" y2="568.9"/>
<rect x="1738.84" y="552.7" width="2.90" height="9.0" fill="#fff" stroke-width="1.1"/>
<line x1="1745.16" y1="556.6" x2="1745.16" y2="601.9"/>
<rect x="1743.16" y="557.0" width="4.00" height="37.0" stroke="none"/>
<line x1="1750.03" y1="587.1" x2="1750.03" y2="620.7"/>
<rect x="1748.03" y="594.1" width="4.00" height="25.9" stroke="none"/>
<line x1="1754.90" y1="604.0" x2="1754.90" y2="623.0"/>
<rect x="1752.90" y="619.3" width="4.00" height="1.9" stroke="none"/>
<line x1="1759.76" y1="720.8" x2="1759.76" y2="857.5"/>
<rect x="1757.76" y="735.8" width="4.00" height="95.0" stroke="none"/>
<line x1="1764.63" y1="795.0" x2="1764.63" y2="831.7"/>
<rect x="1763.18" y="795.8" width="2.90" height="18.6" fill="#fff" stroke-width="1.1"/>
<line x1="1769.50" y1="771.7" x2="1769.50" y2="792.5"/>
<rect x="1768.05" y="780.8" width="2.90" height="10.6" fill="#fff" stroke-width="1.1"/>
<line x1="1774.37" y1="777.5" x2="1774.37" y2="829.7"/>
<rect x="1772.37" y="782.0" width="4.00" height="45.5" stroke="none"/>
</g>
<g stroke="#000" stroke-width="1.3">
<line x1="1828.6" y1="0" x2="1828.6" y2="1080"/>
<line x1="0" y1="874.3" x2="1828.6" y2="874.3"/>
<line x1="0" y1="902.3" x2="1920" y2="902.3"/>
<line x1="1828.6" y1="27.2" x2="1833.3" y2="27.2"/>
<line x1="1828.6" y1="60.2" x2="1833.3" y2="60.2"/>
<line x1="1828.6" y1="93.1" x2="1833.3" y2="93.1"/>
<line x1="1828.6" y1="126.1" x2="1833.3" y2="126.1"/>
<line x1="1828.6" y1="159.1" x2="1833.3" y2="159.1"/>
<line x1="1828.6" y1="192.0" x2="1833.3" y2="192.0"/>
<line x1="1828.6" y1="225.0" x2="1833.3" y2="225.0"/>
<line x1="1828.6" y1="257.9" x2="1833.3" y2="257.9"/>
<line x1="1828.6" y1="290.9" x2="1833.3" y2="290.9"/>
<line x1="1828.6" y1="323.9" x2="1833.3" y2="323.9"/>
<line x1="1828.6" y1="356.8" x2="1833.3" y2="356.8"/>
<line x1="1828.6" y1="389.8" x2="1833.3" y2="389.8"/>
<line x1="1828.6" y1="422.8" x2="1833.3" y2="422.8"/>
<line x1="1828.6" y1="455.7" x2="1833.3" y2="455.7"/>
<line x1="1828.6" y1="488.7" x2="1833.3" y2="488.7"/>
<line x1="1828.6" y1="521.7" x2="1833.3" y2="521.7"/>
<line x1="1828.6" y1="554.6" x2="1833.3" y2="554.6"/>
<line x1="1828.6" y1="587.6" x2="1833.3" y2="587.6"/>
<line x1="1828.6" y1="620.6" x2="1833.3" y2="620.6"/>
<line x1="1828.6" y1="653.5" x2="1833.3" y2="653.5"/>
<line x1="1828.6" y1="686.5" x2="1833.3" y2="686.5"/>
<line x1="1828.6" y1="719.4" x2="1833.3" y2="719.4"/>
<line x1="1828.6" y1="752.4" x2="1833.3" y2="752.4"/>
<line x1="1828.6" y1="785.4" x2="1833.3" y2="785.4"/>
<line x1="1828.6" y1="818.3" x2="1833.3" y2="818.3"/>
<line x1="1828.6" y1="851.3" x2="1833.3" y2="851.3"/>
<line x1="1828.6" y1="925.5" x2="1833.3" y2="925.5"/>
<line x1="1828.6" y1="955.2" x2="1833.3" y2="955.2"/>
<line x1="1828.6" y1="984.3" x2="1833.3" y2="984.3"/>
<line x1="1828.6" y1="1013.3" x2="1833.3" y2="1013.3"/>
<line x1="1828.6" y1="1042.4" x2="1833.3" y2="1042.4"/>
<line x1="1828.6" y1="1072.4" x2="1833.3" y2="1072.4"/>
<line x1="36.7" y1="874.3" x2="36.7" y2="879.3"/>
<line x1="143.7" y1="874.3" x2="143.7" y2="879.3"/>
<line x1="250.7" y1="874.3" x2="250.7" y2="879.3"/>
<line x1="342.3" y1="874.3" x2="342.3" y2="879.3"/>
<line x1="444.7" y1="874.3" x2="444.7" y2="879.3"/>
<line x1="547.0" y1="874.3" x2="547.0" y2="879.3"/>
<line x1="645.0" y1="874.3" x2="645.0" y2="879.3"/>
<line x1="742.3" y1="874.3" x2="742.3" y2="879.3"/>
<line x1="854.3" y1="874.3" x2="854.3" y2="879.3"/>
<line x1="946.7" y1="874.3" x2="946.7" y2="879.3"/>
<line x1="1058.7" y1="874.3" x2="1058.7" y2="879.3"/>
<line x1="1166.0" y1="874.3" x2="1166.0" y2="879.3"/>
<line x1="1267.7" y1="874.3" x2="1267.7" y2="879.3"/>
<line x1="1379.7" y1="874.3" x2="1379.7" y2="879.3"/>
<line x1="1482.0" y1="874.3" x2="1482.0" y2="879.3"/>
<line x1="1579.3" y1="874.3" x2="1579.3" y2="879.3"/>
<line x1="1682.3" y1="874.3" x2="1682.3" y2="879.3"/>
</g>
<g font-family="'Liberation Sans', sans-serif" font-weight="bold">
<text x="3.0" y="21.9" font-size="23.8" fill="#000" text-anchor="start" textLength="456.5" lengthAdjust="spacingAndGlyphs">Johns Lyng Group Limited Ordinary (JLG) - Daily</text>
<text x="1890.8" y="36.7" font-size="23" fill="#000" text-anchor="start" textLength="25.6" lengthAdjust="spacingAndGlyphs">7.4</text>
<text x="1890.8" y="69.7" font-size="23" fill="#000" text-anchor="start" textLength="25.6" lengthAdjust="spacingAndGlyphs">7.2</text>
<text x="1890.8" y="102.6" font-size="23" fill="#000" text-anchor="start" textLength="25.6" lengthAdjust="spacingAndGlyphs">7.0</text>
<text x="1890.8" y="135.6" font-size="23" fill="#000" text-anchor="start" textLength="25.6" lengthAdjust="spacingAndGlyphs">6.8</text>
<text x="1890.8" y="168.6" font-size="23" fill="#000" text-anchor="start" textLength="25.6" lengthAdjust="spacingAndGlyphs">6.6</text>
<text x="1890.8" y="201.5" font-size="23" fill="#000" text-anchor="start" textLength="25.6" lengthAdjust="spacingAndGlyphs">6.4</text>
<text x="1890.8" y="234.5" font-size="23" fill="#000" text-anchor="start" textLength="25.6" lengthAdjust="spacingAndGlyphs">6.2</text>
<text x="1890.8" y="267.4" font-size="23" fill="#000" text-anchor="start" textLength="25.6" lengthAdjust="spacingAndGlyphs">6.0</text>
<text x="1890.8" y="300.4" font-size="23" fill="#000" text-anchor="start" textLength="25.6" lengthAdjust="spacingAndGlyphs">5.8</text>
<text x="1890.8" y="333.4" font-size="23" fill="#000" text-anchor="start" textLength="25.6" lengthAdjust="spacingAndGlyphs">5.6</text>
<text x="1890.8" y="366.3" font-size="23" fill="#000" text-anchor="start" textLength="25.6" lengthAdjust="spacingAndGlyphs">5.4</text>
<text x="1890.8" y="399.3" font-size="23" fill="#000" text-anchor="start" textLength="25.6" lengthAdjust="spacingAndGlyphs">5.2</text>
<text x="1890.8" y="432.3" font-size="23" fill="#000" text-anchor="start" textLength="25.6" lengthAdjust="spacingAndGlyphs">5.0</text>
<text x="1890.8" y="465.2" font-size="23" fill="#000" text-anchor="start" textLength="25.6" lengthAdjust="spacingAndGlyphs">4.8</text>
<text x="1890.8" y="498.2" font-size="23" fill="#000" text-anchor="start" textLength="25.6" lengthAdjust="spacingAndGlyphs">4.6</text>
<text x="1890.8" y="531.2" font-size="23" fill="#000" text-anchor="start" textLength="25.6" lengthAdjust="spacingAndGlyphs">4.4</text>
<text x="1890.8" y="564.1" font-size="23" fill="#000" text-anchor="start" textLength="25.6" lengthAdjust="spacingAndGlyphs">4.2</text>
<text x="1890.8" y="597.1" font-size="23" fill="#000" text-anchor="start" textLength="25.6" lengthAdjust="spacingAndGlyphs">4.0</text>
<text x="1890.8" y="630.1" font-size="23" fill="#000" text-anchor="start" textLength="25.6" lengthAdjust="spacingAndGlyphs">3.8</text>
<text x="1890.8" y="663.0" font-size="23" fill="#000" text-anchor="start" textLength="25.6" lengthAdjust="spacingAndGlyphs">3.6</text>
<text x="1890.8" y="696.0" font-size="23" fill="#000" text-anchor="start" textLength="25.6" lengthAdjust="spacingAndGlyphs">3.4</text>
<text x="1890.8" y="728.9" font-size="23" fill="#000" text-anchor="start" textLength="25.6" lengthAdjust="spacingAndGlyphs">3.2</text>
<text x="1890.8" y="761.9" font-size="23" fill="#000" text-anchor="start" textLength="25.6" lengthAdjust="spacingAndGlyphs">3.0</text>
<text x="1890.8" y="794.9" font-size="23" fill="#000" text-anchor="start" textLength="25.6" lengthAdjust="spacingAndGlyphs">2.8</text>
<text x="1890.8" y="827.8" font-size="23" fill="#000" text-anchor="start" textLength="25.6" lengthAdjust="spacingAndGlyphs">2.6</text>
<text x="1890.8" y="860.8" font-size="23" fill="#000" text-anchor="start" textLength="25.6" lengthAdjust="spacingAndGlyphs">2.4</text>
<text x="1879.5" y="935.0" font-size="23" fill="#000" text-anchor="start" textLength="36.7" lengthAdjust="spacingAndGlyphs">25M</text>
<text x="1879.5" y="964.7" font-size="23" fill="#000" text-anchor="start" textLength="36.7" lengthAdjust="spacingAndGlyphs">20M</text>
<text x="1879.5" y="993.8" font-size="23" fill="#000" text-anchor="start" textLength="36.7" lengthAdjust="spacingAndGlyphs">15M</text>
<text x="1879.5" y="1022.8" font-size="23" fill="#000" text-anchor="start" textLength="36.7" lengthAdjust="spacingAndGlyphs">10M</text>
<text x="1890.7" y="1051.9" font-size="23" fill="#000" text-anchor="start" textLength="25.5" lengthAdjust="spacingAndGlyphs">5M</text>
<text x="1906.7" y="1081.9" font-size="23" fill="#000" text-anchor="start" textLength="9.5" lengthAdjust="spacingAndGlyphs">0</text>
<text x="39.6" y="896.6" font-size="23" fill="#000" text-anchor="start" textLength="32.2" lengthAdjust="spacingAndGlyphs">Oct</text>
<text x="146.6" y="896.6" font-size="23" fill="#000" text-anchor="start" textLength="35.8" lengthAdjust="spacingAndGlyphs">Nov</text>
<text x="253.6" y="896.6" font-size="23" fill="#000" text-anchor="start" textLength="34.5" lengthAdjust="spacingAndGlyphs">Dec</text>
<text x="345.2" y="896.6" font-size="23" fill="#000" text-anchor="start" textLength="43.2" lengthAdjust="spacingAndGlyphs">2024</text>
<text x="447.6" y="896.6" font-size="23" fill="#000" text-anchor="start" textLength="33.5" lengthAdjust="spacingAndGlyphs">Feb</text>
<text x="549.9" y="896.6" font-size="23" fill="#000" text-anchor="start" textLength="33.5" lengthAdjust="spacingAndGlyphs">Mar</text>
<text x="647.9" y="896.6" font-size="23" fill="#000" text-anchor="start" textLength="33.3" lengthAdjust="spacingAndGlyphs">Apr</text>
<text x="745.2" y="896.6" font-size="23" fill="#000" text-anchor="start" textLength="36.9" lengthAdjust="spacingAndGlyphs">May</text>
<text x="857.2" y="896.6" font-size="23" fill="#000" text-anchor="start" textLength="33.3" lengthAdjust="spacingAndGlyphs">Jun</text>
<text x="949.6" y="896.6" font-size="23" fill="#000" text-anchor="start" textLength="27.3" lengthAdjust="spacingAndGlyphs">Jul</text>
<text x="1061.6" y="896.6" font-size="23" fill="#000" text-anchor="start" textLength="36.5" lengthAdjust="spacingAndGlyphs">Aug</text>
<text x="1168.9" y="896.6" font-size="23" fill="#000" text-anchor="start" textLength="34.2" lengthAdjust="spacingAndGlyphs">Sep</text>
<text x="1270.6" y="896.6" font-size="23" fill="#000" text-anchor="start" textLength="32.2" lengthAdjust="spacingAndGlyphs">Oct</text>
<text x="1382.6" y="896.6" font-size="23" fill="#000" text-anchor="start" textLength="35.8" lengthAdjust="spacingAndGlyphs">Nov</text>
<text x="1484.9" y="896.6" font-size="23" fill="#000" text-anchor="start" textLength="34.5" lengthAdjust="spacingAndGlyphs">Dec</text>
<text x="1582.2" y="896.6" font-size="23" fill="#000" text-anchor="start" textLength="43.3" lengthAdjust="spacingAndGlyphs">2025</text>
<text x="1685.2" y="896.6" font-size="23" fill="#000" text-anchor="start" textLength="33.5" lengthAdjust="spacingAndGlyphs">Feb</text>
<text x="3.4" y="927.0" font-size="24" fill="#7A7AC6" text-anchor="start" textLength="70.2" lengthAdjust="spacingAndGlyphs">Volume</text>
<text x="104.7" y="783.2" font-size="22" fill="#00FF00" text-anchor="start" textLength="54.3" lengthAdjust="spacingAndGlyphs">Short-</text>
<text x="164.6" y="783.2" font-size="22" fill="#000" text-anchor="start" textLength="5.6" lengthAdjust="spacingAndGlyphs" font-weight="normal">/</text>
<text x="176.0" y="783.2" font-size="22" fill="#3CB371" text-anchor="start" textLength="44.3" lengthAdjust="spacingAndGlyphs">Long</text>
<text x="220.5" y="783.2" font-size="22" fill="#000" text-anchor="start" textLength="171.7" lengthAdjust="spacingAndGlyphs">-term demand zone</text>
<text x="104.7" y="808.3" font-size="22" fill="#FFB0B0" text-anchor="start" textLength="54.3" lengthAdjust="spacingAndGlyphs">Short-</text>
<text x="164.6" y="808.3" font-size="22" fill="#000" text-anchor="start" textLength="5.6" lengthAdjust="spacingAndGlyphs" font-weight="normal">/</text>
<text x="176.0" y="808.3" font-size="22" fill="#FF7878" text-anchor="start" textLength="44.3" lengthAdjust="spacingAndGlyphs">Long</text>
<text x="220.5" y="808.3" font-size="22" fill="#000" text-anchor="start" textLength="161.5" lengthAdjust="spacingAndGlyphs">-term supply zone</text>
<text x="106.5" y="834.8" font-size="22" fill="#000" text-anchor="start" textLength="123.6" lengthAdjust="spacingAndGlyphs">Demand point</text>
<text x="106.2" y="858.9" font-size="22" fill="#000" text-anchor="start" textLength="112.6" lengthAdjust="spacingAndGlyphs">Supply point</text>
</g>
<rect x="13.8" y="765.1" width="32.5" height="20.8" fill="#00FF00"/>
<rect x="59.6" y="765.1" width="33.2" height="20.8" fill="#3CB371"/>
<rect x="14.2" y="790.1" width="32.6" height="20.6" fill="#FFB0B0"/>
<rect x="59.6" y="790.1" width="32.5" height="20.6" fill="#FF7878"/>
<line x1="14.2" y1="827.2" x2="92.2" y2="827.2" stroke="#00FF00" stroke-width="5.8" stroke-dasharray="4.6 3.62"/>
<line x1="14.2" y1="851.1" x2="92.2" y2="851.1" stroke="#FF0000" stroke-width="5.8" stroke-dasharray="4.6 3.62"/>
</svg>
</body></html>
